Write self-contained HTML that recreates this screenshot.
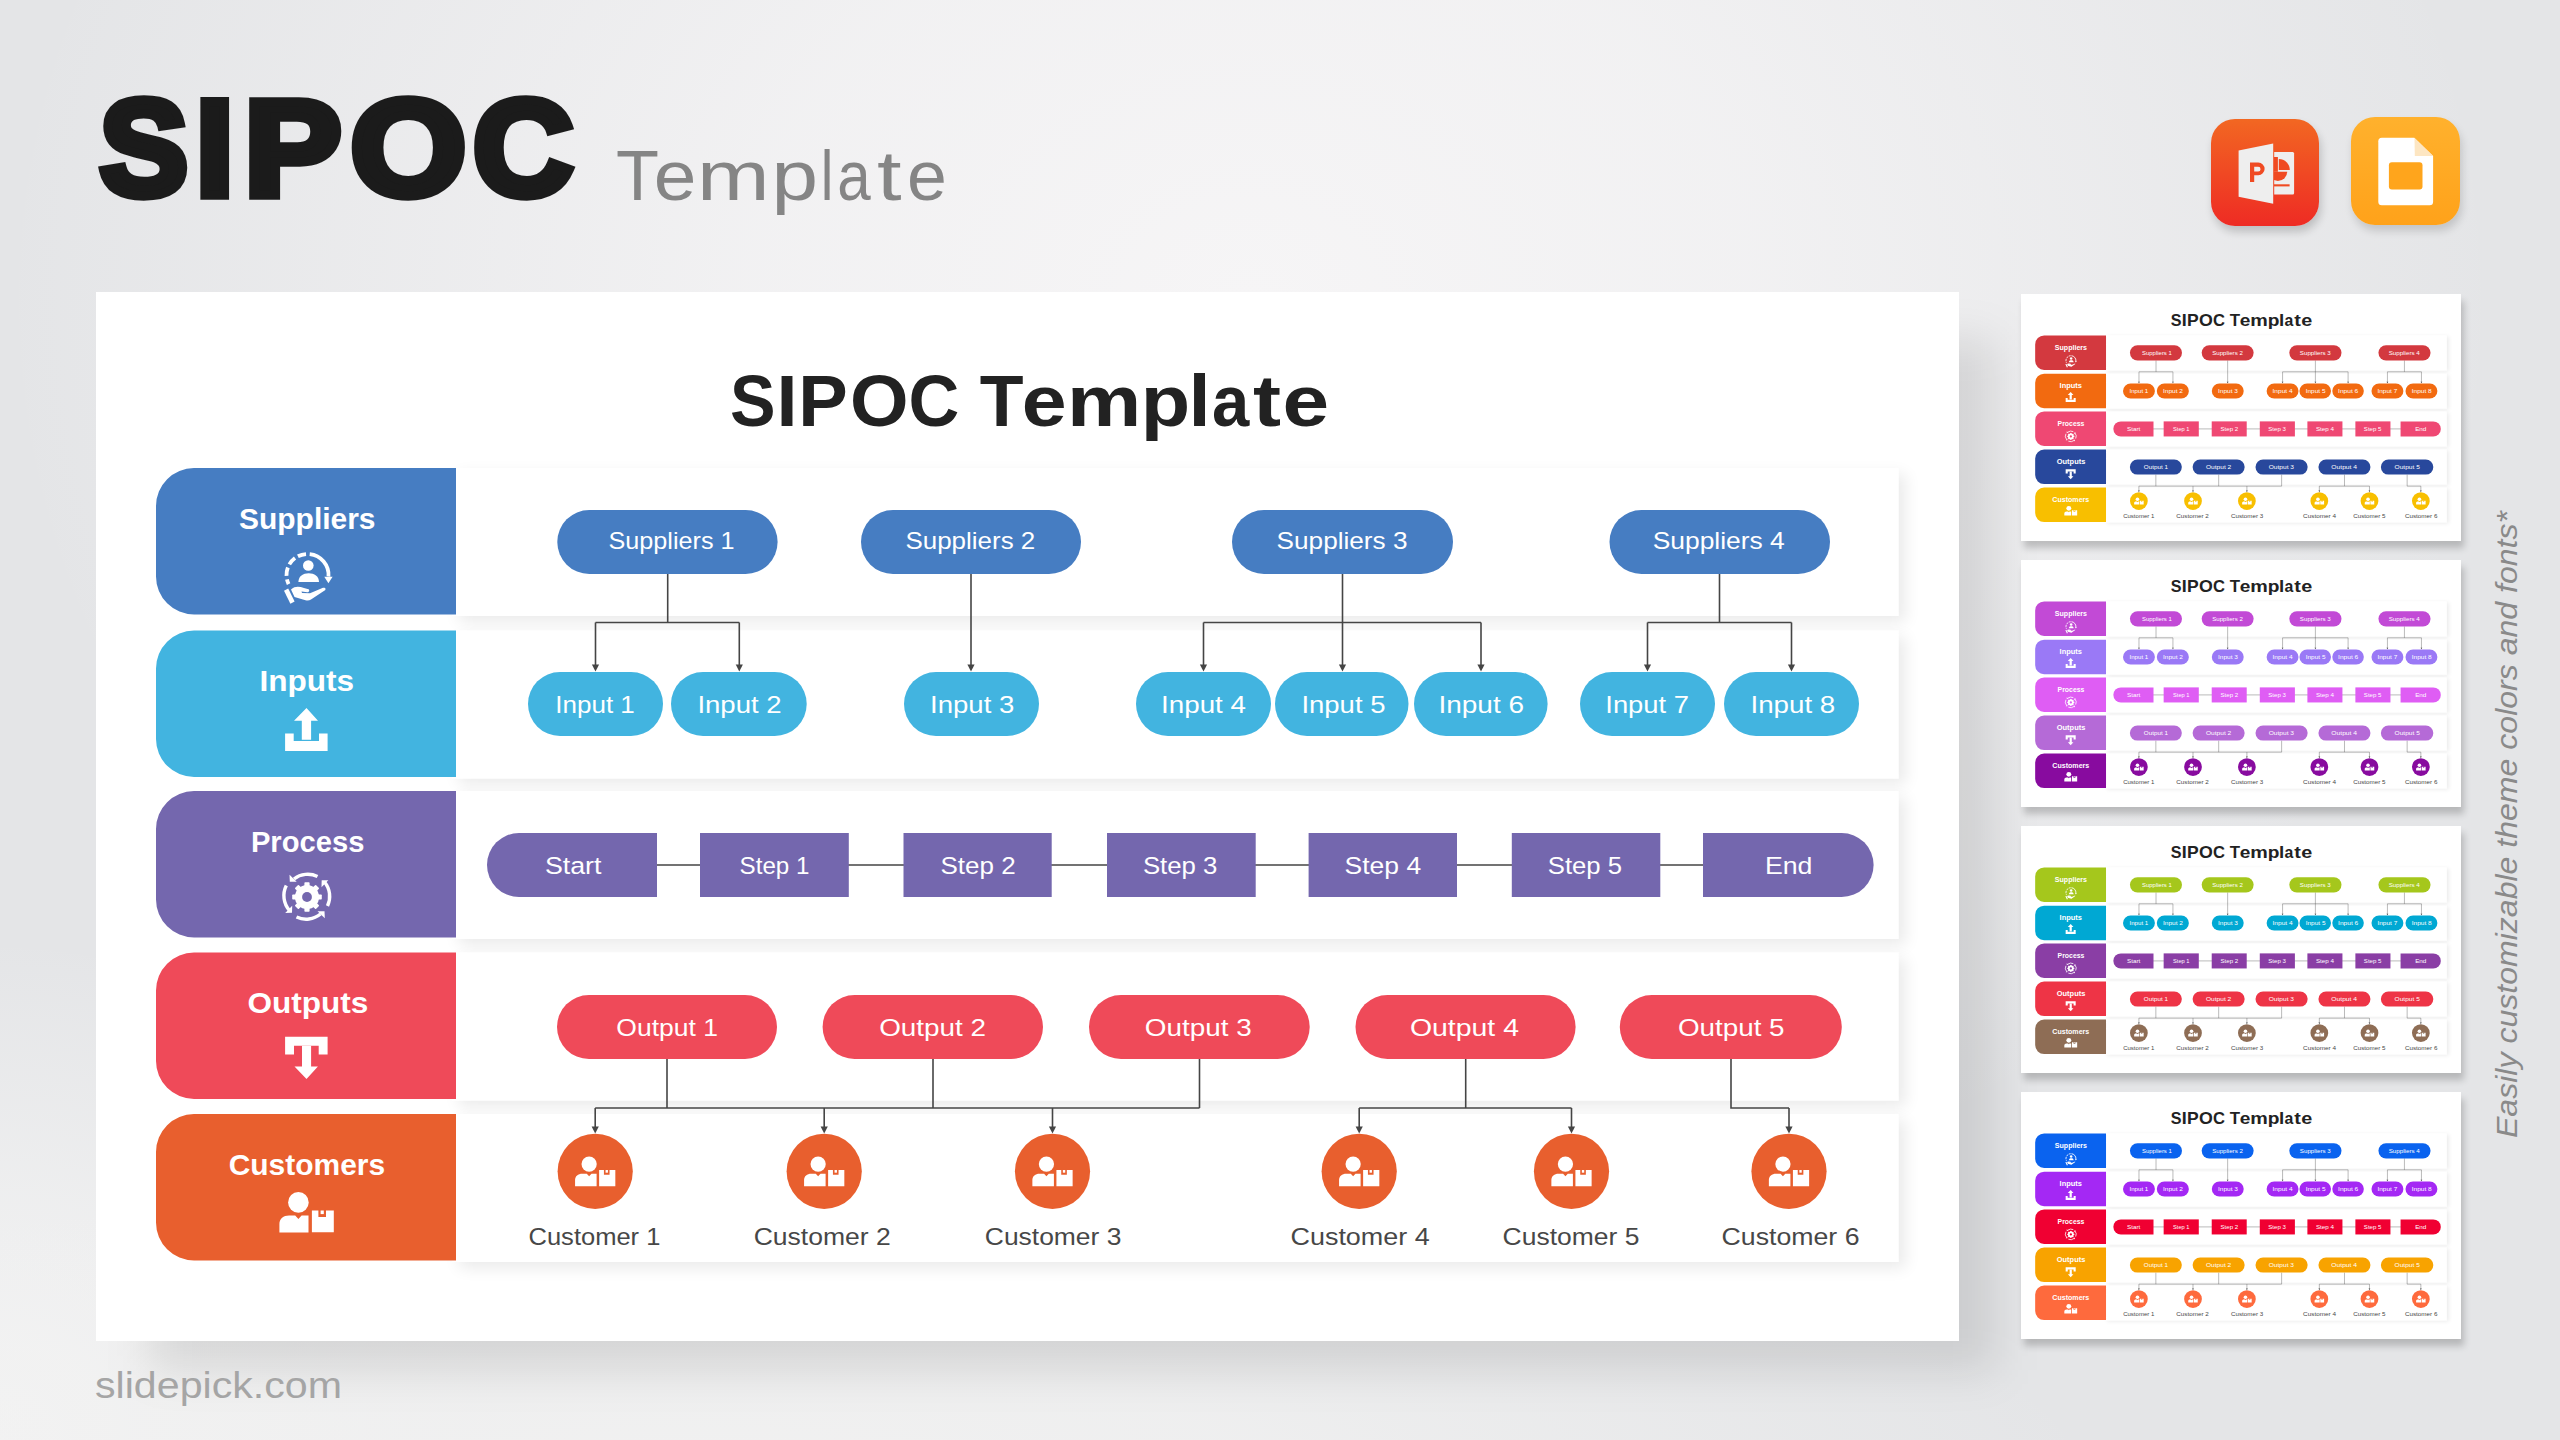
<!DOCTYPE html>
<html><head><meta charset="utf-8"><title>SIPOC Template</title>
<style>
html,body{margin:0;padding:0;}
body{width:2560px;height:1440px;overflow:hidden;position:relative;font-family:"Liberation Sans", sans-serif;
background:
 radial-gradient(1400px 300px at 700px 1480px, rgba(241,241,241,1) 0%, rgba(241,241,241,0.8) 40%, rgba(241,241,241,0) 100%),
 radial-gradient(500px 500px at 0px 1440px, rgba(244,244,244,1) 0%, rgba(244,244,244,0.6) 50%, rgba(244,244,244,0) 100%),
 radial-gradient(1250px 1000px at 1250px 300px, rgba(246,245,246,1) 0%, rgba(246,245,246,0.75) 40%, rgba(246,245,246,0) 100%),
 #e4e5e7;}
.abs{position:absolute;}
.slide{position:absolute;left:96px;top:292px;width:1863px;height:1049px;background:#fff;}
.sshadow{position:absolute;left:150px;top:340px;width:1845px;height:1030px;background:rgba(0,0,0,0.10);filter:blur(22px);}
.thumb{position:absolute;left:2021px;width:440px;height:247px;background:#fff;box-shadow:3px 7px 7px rgba(0,0,0,0.2);}
</style></head><body>
<svg class="abs" style="left:0;top:0" width="2560" height="300" font-family='"Liberation Sans", sans-serif'>
<text transform="translate(99.73,194.85) scale(0.9802,1)" x="0" y="0" font-size="134.7" font-weight="bold" fill="#1b1b1b" stroke="#1b1b1b" stroke-width="9.3" stroke-linejoin="miter">S</text>
<text transform="translate(195.92,194.85) scale(1.0001,1)" x="0" y="0" font-size="134.7" font-weight="bold" fill="#1b1b1b" stroke="#1b1b1b" stroke-width="9.3" stroke-linejoin="miter">I</text>
<text transform="translate(244.39,194.85) scale(1.0767,1)" x="0" y="0" font-size="134.7" font-weight="bold" fill="#1b1b1b" stroke="#1b1b1b" stroke-width="9.3" stroke-linejoin="miter">P</text>
<text transform="translate(350.84,194.85) scale(1.0999,1)" x="0" y="0" font-size="134.7" font-weight="bold" fill="#1b1b1b" stroke="#1b1b1b" stroke-width="9.3" stroke-linejoin="miter">O</text>
<text transform="translate(473.20,194.85) scale(1.0257,1)" x="0" y="0" font-size="134.7" font-weight="bold" fill="#1b1b1b" stroke="#1b1b1b" stroke-width="9.3" stroke-linejoin="miter">C</text>
<text transform="translate(616.05,199.6) scale(1.0045,1)" x="0" y="0" font-size="70" fill="#858585">T</text>
<text transform="translate(653.77,199.6) scale(1.0973,1)" x="0" y="0" font-size="70" fill="#858585">e</text>
<text transform="translate(696.95,199.6) scale(1.2452,1)" x="0" y="0" font-size="70" fill="#858585">m</text>
<text transform="translate(771.46,199.6) scale(1.1963,1)" x="0" y="0" font-size="70" fill="#858585">p</text>
<text transform="translate(820.79,199.6) scale(0.8117,1)" x="0" y="0" font-size="70" fill="#858585">l</text>
<text transform="translate(837.28,199.6) scale(0.8588,1)" x="0" y="0" font-size="70" fill="#858585">a</text>
<text transform="translate(877.08,199.6) scale(1.2612,1)" x="0" y="0" font-size="70" fill="#858585">t</text>
<text transform="translate(907.09,199.6) scale(1.0243,1)" x="0" y="0" font-size="70" fill="#858585">e</text>
</svg>
<div class="abs" style="left:2211px;top:119px;width:108px;height:107px;border-radius:24px;background:linear-gradient(#f26722,#ee2b24);box-shadow:2px 6px 8px rgba(0,0,0,0.18)">
<svg width="108" height="107" viewBox="0 0 108 107" style="display:block">
<path d="M63.2 32.9 L81.6 32.9 Q83.1 32.9 83.1 34.4 L83.1 73.9 Q83.1 75.4 81.6 75.4 L63.2 75.4 Z" fill="#eeeeee"/>
<path d="M67.8 40 A11 11 0 0 1 78.8 51 L67.8 51 Z" fill="#f04a22"/>
<path d="M76.2 52.8 A9.3 9.3 0 0 1 57.6 52.8 Z" fill="#f04a22"/>
<path d="M62 52.8 L66.9 52.8 L66.9 38 L62 38 Z" fill="#f04a22"/>
<rect x="62.5" y="65.3" width="16.1" height="2.1" fill="#f04a22"/>
<path d="M27.6 31.6 L62.2 24.6 L62.2 84.75 L27.6 77.7 Z" fill="#eeeeee"/>
<path fill-rule="evenodd" d="M39 43.6 L47.3 43.6 A6.3 6.3 0 0 1 47.3 56.2 L43.2 56.2 L43.2 63.1 L39 63.1 Z M43.2 47.8 L47.2 47.8 A2.35 2.35 0 0 1 47.2 52.5 L43.2 52.5 Z" fill="#f04a22"/>
</svg></div>
<div class="abs" style="left:2351px;top:117px;width:109px;height:108px;border-radius:24px;background:linear-gradient(#ffb12d,#ffa21a);box-shadow:2px 6px 8px rgba(0,0,0,0.15)">
<svg width="109" height="108" viewBox="0 0 109 108" style="display:block">
<path d="M30.8 20.7 L63.3 20.7 L82.1 39 L82.1 84.7 Q82.1 88.2 78.6 88.2 L30.8 88.2 Q27.3 88.2 27.3 84.7 L27.3 24.2 Q27.3 20.7 30.8 20.7 Z" fill="#fff"/>
<path d="M63.5 21 L82 39 L63.8 39 Z" fill="#fde6c2"/>
<rect x="37.9" y="45.2" width="33.6" height="27.4" rx="3" fill="#ffa51c"/>
</svg></div>
<div class="sshadow"></div>
<div class="slide"><svg width="1863" height="1049" viewBox="0 0 1863 1049" preserveAspectRatio="none" style="display:block" font-family='"Liberation Sans", sans-serif'>
<defs>
<filter id="rsm" x="-5%" y="-30%" width="110%" height="160%"><feGaussianBlur in="SourceAlpha" stdDeviation="8"/><feOffset dx="7" dy="6"/><feComponentTransfer><feFuncA type="linear" slope="0.085"/></feComponentTransfer><feMerge><feMergeNode/><feMergeNode in="SourceGraphic"/></feMerge></filter>
<marker id="arm" viewBox="0 0 10 10" refX="5" refY="9" markerWidth="7" markerHeight="7" markerUnits="userSpaceOnUse" orient="auto-start-reverse"><path d="M0 0 L10 0 L5 10 Z" fill="#3a3a3a"/></marker>
</defs>
<rect x="0" y="0" width="1863" height="1049" fill="#fff"/>
<text transform="translate(634.12,134.3) scale(0.9563,1)" x="0" y="0" font-size="71.4" font-weight="bold" fill="#222">S</text><text transform="translate(680.43,134.3) scale(1.0601,1)" x="0" y="0" font-size="71.4" font-weight="bold" fill="#222">I</text><text transform="translate(702.33,134.3) scale(1.0393,1)" x="0" y="0" font-size="71.4" font-weight="bold" fill="#222">P</text><text transform="translate(753.91,134.3) scale(1.0539,1)" x="0" y="0" font-size="71.4" font-weight="bold" fill="#222">O</text><text transform="translate(812.42,134.3) scale(0.9851,1)" x="0" y="0" font-size="71.4" font-weight="bold" fill="#222">C</text><text transform="translate(883.81,134.3) scale(1.0035,1)" x="0" y="0" font-size="71.4" font-weight="bold" fill="#222">T</text><text transform="translate(925.75,134.3) scale(1.1309,1)" x="0" y="0" font-size="71.4" font-weight="bold" fill="#222">e</text><text transform="translate(971.08,134.3) scale(1.1705,1)" x="0" y="0" font-size="71.4" font-weight="bold" fill="#222">m</text><text transform="translate(1044.66,134.3) scale(1.1338,1)" x="0" y="0" font-size="71.4" font-weight="bold" fill="#222">p</text><text transform="translate(1092.43,134.3) scale(1.1143,1)" x="0" y="0" font-size="71.4" font-weight="bold" fill="#222">l</text><text transform="translate(1116.06,134.3) scale(0.9381,1)" x="0" y="0" font-size="71.4" font-weight="bold" fill="#222">a</text><text transform="translate(1156.99,134.3) scale(1.1785,1)" x="0" y="0" font-size="71.4" font-weight="bold" fill="#222">t</text><text transform="translate(1186.53,134.3) scale(1.1744,1)" x="0" y="0" font-size="71.4" font-weight="bold" fill="#222">e</text>
<rect x="356" y="176" width="1446.5" height="148.0" fill="#fff" filter="url(#rsm)"/>
<rect x="356" y="338.5" width="1446.5" height="148.0" fill="#fff" filter="url(#rsm)"/>
<rect x="356" y="499" width="1446.5" height="148.0" fill="#fff" filter="url(#rsm)"/>
<rect x="356" y="660.5" width="1446.5" height="148.0" fill="#fff" filter="url(#rsm)"/>
<rect x="356" y="822" width="1446.5" height="148.0" fill="#fff" filter="url(#rsm)"/>
<path d="M360 176 L98 176 A38 38 0 0 0 60 214 L60 284.5 A38 38 0 0 0 98 322.5 L360 322.5 Z" fill="#467dc2"/>
<text x="211.25" y="236.5" font-size="29.5" font-weight="bold" fill="#fff" text-anchor="middle" textLength="136.5" lengthAdjust="spacingAndGlyphs">Suppliers</text>
<path d="M360 338.5 L98 338.5 A38 38 0 0 0 60 376.5 L60 447.0 A38 38 0 0 0 98 485.0 L360 485.0 Z" fill="#42b4e0"/>
<text x="210.75" y="399.0" font-size="29.5" font-weight="bold" fill="#fff" text-anchor="middle" textLength="94.7" lengthAdjust="spacingAndGlyphs">Inputs</text>
<path d="M360 499 L98 499 A38 38 0 0 0 60 537 L60 607.5 A38 38 0 0 0 98 645.5 L360 645.5 Z" fill="#7467ae"/>
<text x="211.65" y="559.5" font-size="29.5" font-weight="bold" fill="#fff" text-anchor="middle" textLength="113.5" lengthAdjust="spacingAndGlyphs">Process</text>
<path d="M360 660.5 L98 660.5 A38 38 0 0 0 60 698.5 L60 769.0 A38 38 0 0 0 98 807.0 L360 807.0 Z" fill="#ef4a59"/>
<text x="211.95" y="721.0" font-size="29.5" font-weight="bold" fill="#fff" text-anchor="middle" textLength="120.9" lengthAdjust="spacingAndGlyphs">Outputs</text>
<path d="M360 822 L98 822 A38 38 0 0 0 60 860 L60 930.5 A38 38 0 0 0 98 968.5 L360 968.5 Z" fill="#e85f2e"/>
<text x="210.95" y="882.5" font-size="29.5" font-weight="bold" fill="#fff" text-anchor="middle" textLength="156.5" lengthAdjust="spacingAndGlyphs">Customers</text>
<g transform="translate(211.5,285.5) scale(1.0) translate(-37.5,-37.5)" fill="#fff" stroke="none">
<circle cx="38.3" cy="25.5" r="5.3"/>
<path d="M28.4 41.9 C28.6 36 33 33.2 38.7 33.2 C44.4 33.2 48.8 36 49 41.9 Z"/>
<path d="M36.04 14.05 A21 21 0 0 0 18.6 44.2" fill="none" stroke="#fff" stroke-width="3.8" stroke-dasharray="8.5 3.4"/>
<path d="M39.7 14.1 A21 21 0 0 1 58.49 36.5" fill="none" stroke="#fff" stroke-width="3.8"/>
<path d="M54.3 36.8 L62.6 36.8 L58.4 43.2 Z"/>
<path d="M21 49.5 C25 46 29 46.5 34 48 L38.5 49.2 C40 50 39 52.5 37.2 52.3 L31.5 51.6 L32 53 L40 53.2 L53 47.8 C55.3 47 56.5 49.2 54.6 50.5 L41 59.5 C39.5 60.5 37.5 60.7 35.5 60.2 L24.5 57 Z"/>
<path d="M14 50.8 L18.2 48.6 L24.6 61.6 L20.4 63.8 Z"/>
</g>
<g transform="translate(210.5,440.5) scale(1.0) translate(-36.5,-37.5)" fill="#fff">
<path d="M36.5 13 L48 25.8 L41.1 25.8 L41.1 44.8 L31.8 44.8 L31.8 25.8 L24 25.8 Z"/>
<path d="M15.1 38.5 L23.7 38.5 L23.7 46.1 L49 46.1 L49 38.5 L57.6 38.5 L57.6 56 L15.1 56 Z"/>
</g>
<g transform="translate(211,605) scale(1.0) translate(-37,-37)" fill="#fff">
<circle cx="37" cy="37" r="12.1"/>
<rect x="34.4" y="22.2" width="5.2" height="6" rx="0.8" transform="rotate(0 37 37)"/><rect x="34.4" y="22.2" width="5.2" height="6" rx="0.8" transform="rotate(45 37 37)"/><rect x="34.4" y="22.2" width="5.2" height="6" rx="0.8" transform="rotate(90 37 37)"/><rect x="34.4" y="22.2" width="5.2" height="6" rx="0.8" transform="rotate(135 37 37)"/><rect x="34.4" y="22.2" width="5.2" height="6" rx="0.8" transform="rotate(180 37 37)"/><rect x="34.4" y="22.2" width="5.2" height="6" rx="0.8" transform="rotate(225 37 37)"/><rect x="34.4" y="22.2" width="5.2" height="6" rx="0.8" transform="rotate(270 37 37)"/><rect x="34.4" y="22.2" width="5.2" height="6" rx="0.8" transform="rotate(315 37 37)"/>
<circle cx="37" cy="37" r="4.9" fill="#7467ae"/>
<g fill="none" stroke="#fff" stroke-width="3.4">
<path d="M47.5 16.5 A22.5 22.5 0 0 0 24 19"/>
<path d="M16.3 25.5 A22.5 22.5 0 0 0 19.5 50.5"/>
<path d="M26.5 57 A22.5 22.5 0 0 0 50.5 54"/>
<path d="M57.5 46 A22.5 22.5 0 0 0 54.5 22"/>
</g>
<path d="M19.5 14.8 L26.7 21.7 L19.8 21.8 Z"/>
<path d="M15.2 52.9 L22.2 45.8 L22.0 52.8 Z"/>
<path d="M54.8 58.2 L47.5 51.3 L54.5 51.2 Z"/>
<path d="M58.3 20.3 L51.5 27.3 L51.7 20.3 Z"/>
</g>
<g transform="translate(210.5,765.5) scale(1.0) translate(-36.5,-37.5)" fill="#fff">
<path d="M15.1 16.7 L57.6 16.7 L57.6 34.6 L48.7 34.6 L48.7 25.8 L24 25.8 L24 34.6 L15.1 34.6 Z"/>
<path d="M32 25.8 L41.1 25.8 L41.1 46.4 L47.9 46.4 L36.5 59.1 L24.5 46.4 L32 46.4 Z"/>
</g>
<g transform="translate(210.6,925.5) scale(1.0) translate(-36.6,-37.5)" fill="#fff">
<circle cx="28.4" cy="22.4" r="10.3"/>
<path d="M9.4 52.6 L9.4 44 C9.4 38.5 13.5 35.4 19 35.4 L25.2 35.4 L28.4 39 L31.6 35.4 L38.5 35.4 L38.5 52.6 Z"/>
<path d="M41.9 30.5 L48.4 30.5 L48.4 37 L56 37 L56 30.5 L63.8 30.5 L63.8 52.3 L41.9 52.3 Z"/>
<rect x="50.6" y="30.5" width="3.2" height="3.6"/>
</g>
<path d="M571.7 282 L571.7 330.5" fill="none" stroke="#454545" stroke-width="1.6"/><path d="M499.5 330.5 L643.3 330.5" fill="none" stroke="#454545" stroke-width="1.6"/><path d="M499.5 330.5 L499.5 374.5" fill="none" stroke="#454545" stroke-width="1.6"/><path d="M643.3 330.5 L643.3 374.5" fill="none" stroke="#454545" stroke-width="1.6"/>
<path d="M875 282 L875.0 374.5" fill="none" stroke="#454545" stroke-width="1.6"/>
<path d="M1246.5 282 L1246.5 330.5" fill="none" stroke="#454545" stroke-width="1.6"/><path d="M1107.5 330.5 L1385 330.5" fill="none" stroke="#454545" stroke-width="1.6"/><path d="M1107.5 330.5 L1107.5 374.5" fill="none" stroke="#454545" stroke-width="1.6"/><path d="M1246.5 330.5 L1246.5 374.5" fill="none" stroke="#454545" stroke-width="1.6"/><path d="M1385 330.5 L1385.0 374.5" fill="none" stroke="#454545" stroke-width="1.6"/>
<path d="M1623.5 282 L1623.5 330.5" fill="none" stroke="#454545" stroke-width="1.6"/><path d="M1551.5 330.5 L1695.5 330.5" fill="none" stroke="#454545" stroke-width="1.6"/><path d="M1551.5 330.5 L1551.5 374.5" fill="none" stroke="#454545" stroke-width="1.6"/><path d="M1695.5 330.5 L1695.5 374.5" fill="none" stroke="#454545" stroke-width="1.6"/>
<path d="M571 767 L571 816" fill="none" stroke="#454545" stroke-width="1.6"/>
<path d="M837 767 L837 816" fill="none" stroke="#454545" stroke-width="1.6"/>
<path d="M1103.5 767 L1103.5 816" fill="none" stroke="#454545" stroke-width="1.6"/>
<path d="M499.2 816 L1103.5 816" fill="none" stroke="#454545" stroke-width="1.6"/>
<path d="M499.2 816 L499.2 836.5" fill="none" stroke="#454545" stroke-width="1.6"/>
<path d="M728.2 816 L728.2 836.5" fill="none" stroke="#454545" stroke-width="1.6"/>
<path d="M956.5 816 L956.5 836.5" fill="none" stroke="#454545" stroke-width="1.6"/>
<path d="M1369.7 767 L1369.7 816" fill="none" stroke="#454545" stroke-width="1.6"/><path d="M1263.2 816 L1475.5 816" fill="none" stroke="#454545" stroke-width="1.6"/><path d="M1263.2 816 L1263.2 836.5" fill="none" stroke="#454545" stroke-width="1.6"/><path d="M1475.5 816 L1475.5 836.5" fill="none" stroke="#454545" stroke-width="1.6"/>
<path d="M1635 767 L1635 816 L1693 816" fill="none" stroke="#454545" stroke-width="1.6"/>
<path d="M1693 816 L1693.0 836.5" fill="none" stroke="#454545" stroke-width="1.6"/>
<path d="M464 573 L1704 573" fill="none" stroke="#454545" stroke-width="1.6"/>
<rect x="461.3" y="218" width="220.30000000000007" height="64" rx="32.0" fill="#467dc2"/><text x="575.55" y="257.2" font-size="24.5" font-weight="normal" fill="#fff" text-anchor="middle" textLength="126.1" lengthAdjust="spacingAndGlyphs">Suppliers 1</text>
<rect x="765" y="218" width="220" height="64" rx="32.0" fill="#467dc2"/><text x="874.35" y="257.2" font-size="24.5" font-weight="normal" fill="#fff" text-anchor="middle" textLength="129.9" lengthAdjust="spacingAndGlyphs">Suppliers 2</text>
<rect x="1136" y="218" width="221" height="64" rx="32.0" fill="#467dc2"/><text x="1246.05" y="257.2" font-size="24.5" font-weight="normal" fill="#fff" text-anchor="middle" textLength="130.9" lengthAdjust="spacingAndGlyphs">Suppliers 3</text>
<rect x="1513.5" y="218" width="220.5" height="64" rx="32.0" fill="#467dc2"/><text x="1622.75" y="257.2" font-size="24.5" font-weight="normal" fill="#fff" text-anchor="middle" textLength="132.1" lengthAdjust="spacingAndGlyphs">Suppliers 4</text>
<rect x="432" y="380" width="135" height="64" rx="32.0" fill="#42b4e0"/><text x="499.05" y="421.3" font-size="24.5" font-weight="normal" fill="#fff" text-anchor="middle" textLength="79.5" lengthAdjust="spacingAndGlyphs">Input 1</text>
<rect x="575" y="380" width="135.70000000000005" height="64" rx="32.0" fill="#42b4e0"/><text x="643.55" y="421.3" font-size="24.5" font-weight="normal" fill="#fff" text-anchor="middle" textLength="84.3" lengthAdjust="spacingAndGlyphs">Input 2</text>
<rect x="808" y="380" width="135" height="64" rx="32.0" fill="#42b4e0"/><text x="876.15" y="421.3" font-size="24.5" font-weight="normal" fill="#fff" text-anchor="middle" textLength="84.3" lengthAdjust="spacingAndGlyphs">Input 3</text>
<rect x="1040" y="380" width="135" height="64" rx="32.0" fill="#42b4e0"/><text x="1107.55" y="421.3" font-size="24.5" font-weight="normal" fill="#fff" text-anchor="middle" textLength="84.9" lengthAdjust="spacingAndGlyphs">Input 4</text>
<rect x="1179" y="380" width="133.5" height="64" rx="32.0" fill="#42b4e0"/><text x="1247.45" y="421.3" font-size="24.5" font-weight="normal" fill="#fff" text-anchor="middle" textLength="84.1" lengthAdjust="spacingAndGlyphs">Input 5</text>
<rect x="1318" y="380" width="133.5999999999999" height="64" rx="32.0" fill="#42b4e0"/><text x="1385.25" y="421.3" font-size="24.5" font-weight="normal" fill="#fff" text-anchor="middle" textLength="85.7" lengthAdjust="spacingAndGlyphs">Input 6</text>
<rect x="1484" y="380" width="135" height="64" rx="32.0" fill="#42b4e0"/><text x="1551.15" y="421.3" font-size="24.5" font-weight="normal" fill="#fff" text-anchor="middle" textLength="83.7" lengthAdjust="spacingAndGlyphs">Input 7</text>
<rect x="1628" y="380" width="135" height="64" rx="32.0" fill="#42b4e0"/><text x="1696.9" y="421.3" font-size="24.5" font-weight="normal" fill="#fff" text-anchor="middle" textLength="84.8" lengthAdjust="spacingAndGlyphs">Input 8</text>
<path d="M561 541 L423 541 A32 32 0 0 0 423 605 L561 605 Z" fill="#7467ae"/>
<text x="477.2" y="582.4" font-size="24.5" font-weight="normal" fill="#fff" text-anchor="middle" textLength="56.6" lengthAdjust="spacingAndGlyphs">Start</text>
<rect x="604" y="541" width="148.79999999999995" height="64" fill="#7467ae"/>
<text x="678.5" y="582.4" font-size="24.5" font-weight="normal" fill="#fff" text-anchor="middle" textLength="69.8" lengthAdjust="spacingAndGlyphs">Step 1</text>
<rect x="807.5" y="541" width="148.20000000000005" height="64" fill="#7467ae"/>
<text x="882.05" y="582.4" font-size="24.5" font-weight="normal" fill="#fff" text-anchor="middle" textLength="75.1" lengthAdjust="spacingAndGlyphs">Step 2</text>
<rect x="1011" y="541" width="148.70000000000005" height="64" fill="#7467ae"/>
<text x="1084.15" y="582.4" font-size="24.5" font-weight="normal" fill="#fff" text-anchor="middle" textLength="74.5" lengthAdjust="spacingAndGlyphs">Step 3</text>
<rect x="1212.6" y="541" width="148.4000000000001" height="64" fill="#7467ae"/>
<text x="1286.9" y="582.4" font-size="24.5" font-weight="normal" fill="#fff" text-anchor="middle" textLength="76.6" lengthAdjust="spacingAndGlyphs">Step 4</text>
<rect x="1415.8" y="541" width="148.5" height="64" fill="#7467ae"/>
<text x="1488.88" y="582.4" font-size="24.5" font-weight="normal" fill="#fff" text-anchor="middle" textLength="74.25" lengthAdjust="spacingAndGlyphs">Step 5</text>
<path d="M1607 541 L1745.6 541 A32 32 0 0 1 1745.6 605 L1607 605 Z" fill="#7467ae"/>
<text x="1692.65" y="582.4" font-size="24.5" font-weight="normal" fill="#fff" text-anchor="middle" textLength="47.5" lengthAdjust="spacingAndGlyphs">End</text>
<rect x="461" y="703" width="220" height="64" rx="32.0" fill="#ef4a59"/><text x="571.1" y="744" font-size="24.5" font-weight="normal" fill="#fff" text-anchor="middle" textLength="101.6" lengthAdjust="spacingAndGlyphs">Output 1</text>
<rect x="726.6" y="703" width="220.39999999999998" height="64" rx="32.0" fill="#ef4a59"/><text x="836.65" y="744" font-size="24.5" font-weight="normal" fill="#fff" text-anchor="middle" textLength="106.9" lengthAdjust="spacingAndGlyphs">Output 2</text>
<rect x="993" y="703" width="220.70000000000005" height="64" rx="32.0" fill="#ef4a59"/><text x="1102.25" y="744" font-size="24.5" font-weight="normal" fill="#fff" text-anchor="middle" textLength="106.9" lengthAdjust="spacingAndGlyphs">Output 3</text>
<rect x="1259.5" y="703" width="220.0999999999999" height="64" rx="32.0" fill="#ef4a59"/><text x="1368.45" y="744" font-size="24.5" font-weight="normal" fill="#fff" text-anchor="middle" textLength="109.1" lengthAdjust="spacingAndGlyphs">Output 4</text>
<rect x="1523.8" y="703" width="222.0" height="64" rx="32.0" fill="#ef4a59"/><text x="1635.25" y="744" font-size="24.5" font-weight="normal" fill="#fff" text-anchor="middle" textLength="106.7" lengthAdjust="spacingAndGlyphs">Output 5</text>
<circle cx="499.2" cy="879.3" r="37.6" fill="#e85f2e"/>
<g transform="translate(499.2,883.2) scale(0.74) translate(-36.6,-37.5)" fill="#fff">
<circle cx="28.4" cy="22.4" r="10.3"/>
<path d="M9.4 52.6 L9.4 44 C9.4 38.5 13.5 35.4 19 35.4 L25.2 35.4 L28.4 39 L31.6 35.4 L38.5 35.4 L38.5 52.6 Z"/>
<path d="M41.9 30.5 L48.4 30.5 L48.4 37 L56 37 L56 30.5 L63.8 30.5 L63.8 52.3 L41.9 52.3 Z"/>
<rect x="50.6" y="30.5" width="3.2" height="3.6"/>
</g>
<text x="498.45" y="952.5" font-size="24.5" font-weight="normal" fill="#474747" text-anchor="middle" textLength="131.9" lengthAdjust="spacingAndGlyphs">Customer 1</text>
<circle cx="728.2" cy="879.3" r="37.6" fill="#e85f2e"/>
<g transform="translate(728.2,883.2) scale(0.74) translate(-36.6,-37.5)" fill="#fff">
<circle cx="28.4" cy="22.4" r="10.3"/>
<path d="M9.4 52.6 L9.4 44 C9.4 38.5 13.5 35.4 19 35.4 L25.2 35.4 L28.4 39 L31.6 35.4 L38.5 35.4 L38.5 52.6 Z"/>
<path d="M41.9 30.5 L48.4 30.5 L48.4 37 L56 37 L56 30.5 L63.8 30.5 L63.8 52.3 L41.9 52.3 Z"/>
<rect x="50.6" y="30.5" width="3.2" height="3.6"/>
</g>
<text x="726.25" y="952.5" font-size="24.5" font-weight="normal" fill="#474747" text-anchor="middle" textLength="137.1" lengthAdjust="spacingAndGlyphs">Customer 2</text>
<circle cx="956.5" cy="879.3" r="37.6" fill="#e85f2e"/>
<g transform="translate(956.5,883.2) scale(0.74) translate(-36.6,-37.5)" fill="#fff">
<circle cx="28.4" cy="22.4" r="10.3"/>
<path d="M9.4 52.6 L9.4 44 C9.4 38.5 13.5 35.4 19 35.4 L25.2 35.4 L28.4 39 L31.6 35.4 L38.5 35.4 L38.5 52.6 Z"/>
<path d="M41.9 30.5 L48.4 30.5 L48.4 37 L56 37 L56 30.5 L63.8 30.5 L63.8 52.3 L41.9 52.3 Z"/>
<rect x="50.6" y="30.5" width="3.2" height="3.6"/>
</g>
<text x="957.1" y="952.5" font-size="24.5" font-weight="normal" fill="#474747" text-anchor="middle" textLength="136.6" lengthAdjust="spacingAndGlyphs">Customer 3</text>
<circle cx="1263.2" cy="879.3" r="37.6" fill="#e85f2e"/>
<g transform="translate(1263.2,883.2) scale(0.74) translate(-36.6,-37.5)" fill="#fff">
<circle cx="28.4" cy="22.4" r="10.3"/>
<path d="M9.4 52.6 L9.4 44 C9.4 38.5 13.5 35.4 19 35.4 L25.2 35.4 L28.4 39 L31.6 35.4 L38.5 35.4 L38.5 52.6 Z"/>
<path d="M41.9 30.5 L48.4 30.5 L48.4 37 L56 37 L56 30.5 L63.8 30.5 L63.8 52.3 L41.9 52.3 Z"/>
<rect x="50.6" y="30.5" width="3.2" height="3.6"/>
</g>
<text x="1264.1" y="952.5" font-size="24.5" font-weight="normal" fill="#474747" text-anchor="middle" textLength="139.2" lengthAdjust="spacingAndGlyphs">Customer 4</text>
<circle cx="1475.5" cy="879.3" r="37.6" fill="#e85f2e"/>
<g transform="translate(1475.5,883.2) scale(0.74) translate(-36.6,-37.5)" fill="#fff">
<circle cx="28.4" cy="22.4" r="10.3"/>
<path d="M9.4 52.6 L9.4 44 C9.4 38.5 13.5 35.4 19 35.4 L25.2 35.4 L28.4 39 L31.6 35.4 L38.5 35.4 L38.5 52.6 Z"/>
<path d="M41.9 30.5 L48.4 30.5 L48.4 37 L56 37 L56 30.5 L63.8 30.5 L63.8 52.3 L41.9 52.3 Z"/>
<rect x="50.6" y="30.5" width="3.2" height="3.6"/>
</g>
<text x="1475.0" y="952.5" font-size="24.5" font-weight="normal" fill="#474747" text-anchor="middle" textLength="136.8" lengthAdjust="spacingAndGlyphs">Customer 5</text>
<circle cx="1693" cy="879.3" r="37.6" fill="#e85f2e"/>
<g transform="translate(1693,883.2) scale(0.74) translate(-36.6,-37.5)" fill="#fff">
<circle cx="28.4" cy="22.4" r="10.3"/>
<path d="M9.4 52.6 L9.4 44 C9.4 38.5 13.5 35.4 19 35.4 L25.2 35.4 L28.4 39 L31.6 35.4 L38.5 35.4 L38.5 52.6 Z"/>
<path d="M41.9 30.5 L48.4 30.5 L48.4 37 L56 37 L56 30.5 L63.8 30.5 L63.8 52.3 L41.9 52.3 Z"/>
<rect x="50.6" y="30.5" width="3.2" height="3.6"/>
</g>
<text x="1694.5" y="952.5" font-size="24.5" font-weight="normal" fill="#474747" text-anchor="middle" textLength="138.0" lengthAdjust="spacingAndGlyphs">Customer 6</text>
<path d="M495.90 372.50 L503.10 372.50 L499.50 379.50 Z" fill="#454545"/>
<path d="M639.70 372.50 L646.90 372.50 L643.30 379.50 Z" fill="#454545"/>
<path d="M871.40 372.50 L878.60 372.50 L875.00 379.50 Z" fill="#454545"/>
<path d="M1103.90 372.50 L1111.10 372.50 L1107.50 379.50 Z" fill="#454545"/>
<path d="M1242.90 372.50 L1250.10 372.50 L1246.50 379.50 Z" fill="#454545"/>
<path d="M1381.40 372.50 L1388.60 372.50 L1385.00 379.50 Z" fill="#454545"/>
<path d="M1547.90 372.50 L1555.10 372.50 L1551.50 379.50 Z" fill="#454545"/>
<path d="M1691.90 372.50 L1699.10 372.50 L1695.50 379.50 Z" fill="#454545"/>
<path d="M495.60 834.50 L502.80 834.50 L499.20 841.50 Z" fill="#454545"/>
<path d="M724.60 834.50 L731.80 834.50 L728.20 841.50 Z" fill="#454545"/>
<path d="M952.90 834.50 L960.10 834.50 L956.50 841.50 Z" fill="#454545"/>
<path d="M1259.60 834.50 L1266.80 834.50 L1263.20 841.50 Z" fill="#454545"/>
<path d="M1471.90 834.50 L1479.10 834.50 L1475.50 841.50 Z" fill="#454545"/>
<path d="M1689.40 834.50 L1696.60 834.50 L1693.00 841.50 Z" fill="#454545"/>
</svg></div>
<div class="thumb" style="top:294px"><svg width="440" height="247" viewBox="0 0 1863 1049" preserveAspectRatio="none" style="display:block" font-family='"Liberation Sans", sans-serif'>
<defs>
<filter id="rst0" x="-5%" y="-30%" width="110%" height="160%"><feGaussianBlur in="SourceAlpha" stdDeviation="8"/><feOffset dx="7" dy="6"/><feComponentTransfer><feFuncA type="linear" slope="0.085"/></feComponentTransfer><feMerge><feMergeNode/><feMergeNode in="SourceGraphic"/></feMerge></filter>
<marker id="art0" viewBox="0 0 10 10" refX="5" refY="9" markerWidth="7" markerHeight="7" markerUnits="userSpaceOnUse" orient="auto-start-reverse"><path d="M0 0 L10 0 L5 10 Z" fill="#3a3a3a"/></marker>
</defs>
<rect x="0" y="0" width="1863" height="1049" fill="#fff"/>
<text transform="translate(634.12,134.3) scale(0.9563,1)" x="0" y="0" font-size="71.4" font-weight="bold" fill="#222">S</text><text transform="translate(680.43,134.3) scale(1.0601,1)" x="0" y="0" font-size="71.4" font-weight="bold" fill="#222">I</text><text transform="translate(702.33,134.3) scale(1.0393,1)" x="0" y="0" font-size="71.4" font-weight="bold" fill="#222">P</text><text transform="translate(753.91,134.3) scale(1.0539,1)" x="0" y="0" font-size="71.4" font-weight="bold" fill="#222">O</text><text transform="translate(812.42,134.3) scale(0.9851,1)" x="0" y="0" font-size="71.4" font-weight="bold" fill="#222">C</text><text transform="translate(883.81,134.3) scale(1.0035,1)" x="0" y="0" font-size="71.4" font-weight="bold" fill="#222">T</text><text transform="translate(925.75,134.3) scale(1.1309,1)" x="0" y="0" font-size="71.4" font-weight="bold" fill="#222">e</text><text transform="translate(971.08,134.3) scale(1.1705,1)" x="0" y="0" font-size="71.4" font-weight="bold" fill="#222">m</text><text transform="translate(1044.66,134.3) scale(1.1338,1)" x="0" y="0" font-size="71.4" font-weight="bold" fill="#222">p</text><text transform="translate(1092.43,134.3) scale(1.1143,1)" x="0" y="0" font-size="71.4" font-weight="bold" fill="#222">l</text><text transform="translate(1116.06,134.3) scale(0.9381,1)" x="0" y="0" font-size="71.4" font-weight="bold" fill="#222">a</text><text transform="translate(1156.99,134.3) scale(1.1785,1)" x="0" y="0" font-size="71.4" font-weight="bold" fill="#222">t</text><text transform="translate(1186.53,134.3) scale(1.1744,1)" x="0" y="0" font-size="71.4" font-weight="bold" fill="#222">e</text>
<rect x="356" y="176" width="1446.5" height="148.0" fill="#fff" filter="url(#rst0)"/>
<rect x="356" y="338.5" width="1446.5" height="148.0" fill="#fff" filter="url(#rst0)"/>
<rect x="356" y="499" width="1446.5" height="148.0" fill="#fff" filter="url(#rst0)"/>
<rect x="356" y="660.5" width="1446.5" height="148.0" fill="#fff" filter="url(#rst0)"/>
<rect x="356" y="822" width="1446.5" height="148.0" fill="#fff" filter="url(#rst0)"/>
<path d="M360 176 L98 176 A38 38 0 0 0 60 214 L60 284.5 A38 38 0 0 0 98 322.5 L360 322.5 Z" fill="#d3393f"/>
<text x="211.25" y="236.5" font-size="29.5" font-weight="bold" fill="#fff" text-anchor="middle" textLength="136.5" lengthAdjust="spacingAndGlyphs">Suppliers</text>
<path d="M360 338.5 L98 338.5 A38 38 0 0 0 60 376.5 L60 447.0 A38 38 0 0 0 98 485.0 L360 485.0 Z" fill="#f26a10"/>
<text x="210.75" y="399.0" font-size="29.5" font-weight="bold" fill="#fff" text-anchor="middle" textLength="94.7" lengthAdjust="spacingAndGlyphs">Inputs</text>
<path d="M360 499 L98 499 A38 38 0 0 0 60 537 L60 607.5 A38 38 0 0 0 98 645.5 L360 645.5 Z" fill="#ef4873"/>
<text x="211.65" y="559.5" font-size="29.5" font-weight="bold" fill="#fff" text-anchor="middle" textLength="113.5" lengthAdjust="spacingAndGlyphs">Process</text>
<path d="M360 660.5 L98 660.5 A38 38 0 0 0 60 698.5 L60 769.0 A38 38 0 0 0 98 807.0 L360 807.0 Z" fill="#28489c"/>
<text x="211.95" y="721.0" font-size="29.5" font-weight="bold" fill="#fff" text-anchor="middle" textLength="120.9" lengthAdjust="spacingAndGlyphs">Outputs</text>
<path d="M360 822 L98 822 A38 38 0 0 0 60 860 L60 930.5 A38 38 0 0 0 98 968.5 L360 968.5 Z" fill="#f8bf00"/>
<text x="210.95" y="882.5" font-size="29.5" font-weight="bold" fill="#fff" text-anchor="middle" textLength="156.5" lengthAdjust="spacingAndGlyphs">Customers</text>
<g transform="translate(211.5,285.5) scale(1.0) translate(-37.5,-37.5)" fill="#fff" stroke="none">
<circle cx="38.3" cy="25.5" r="5.3"/>
<path d="M28.4 41.9 C28.6 36 33 33.2 38.7 33.2 C44.4 33.2 48.8 36 49 41.9 Z"/>
<path d="M36.04 14.05 A21 21 0 0 0 18.6 44.2" fill="none" stroke="#fff" stroke-width="3.8" stroke-dasharray="8.5 3.4"/>
<path d="M39.7 14.1 A21 21 0 0 1 58.49 36.5" fill="none" stroke="#fff" stroke-width="3.8"/>
<path d="M54.3 36.8 L62.6 36.8 L58.4 43.2 Z"/>
<path d="M21 49.5 C25 46 29 46.5 34 48 L38.5 49.2 C40 50 39 52.5 37.2 52.3 L31.5 51.6 L32 53 L40 53.2 L53 47.8 C55.3 47 56.5 49.2 54.6 50.5 L41 59.5 C39.5 60.5 37.5 60.7 35.5 60.2 L24.5 57 Z"/>
<path d="M14 50.8 L18.2 48.6 L24.6 61.6 L20.4 63.8 Z"/>
</g>
<g transform="translate(210.5,440.5) scale(1.0) translate(-36.5,-37.5)" fill="#fff">
<path d="M36.5 13 L48 25.8 L41.1 25.8 L41.1 44.8 L31.8 44.8 L31.8 25.8 L24 25.8 Z"/>
<path d="M15.1 38.5 L23.7 38.5 L23.7 46.1 L49 46.1 L49 38.5 L57.6 38.5 L57.6 56 L15.1 56 Z"/>
</g>
<g transform="translate(211,605) scale(1.0) translate(-37,-37)" fill="#fff">
<circle cx="37" cy="37" r="12.1"/>
<rect x="34.4" y="22.2" width="5.2" height="6" rx="0.8" transform="rotate(0 37 37)"/><rect x="34.4" y="22.2" width="5.2" height="6" rx="0.8" transform="rotate(45 37 37)"/><rect x="34.4" y="22.2" width="5.2" height="6" rx="0.8" transform="rotate(90 37 37)"/><rect x="34.4" y="22.2" width="5.2" height="6" rx="0.8" transform="rotate(135 37 37)"/><rect x="34.4" y="22.2" width="5.2" height="6" rx="0.8" transform="rotate(180 37 37)"/><rect x="34.4" y="22.2" width="5.2" height="6" rx="0.8" transform="rotate(225 37 37)"/><rect x="34.4" y="22.2" width="5.2" height="6" rx="0.8" transform="rotate(270 37 37)"/><rect x="34.4" y="22.2" width="5.2" height="6" rx="0.8" transform="rotate(315 37 37)"/>
<circle cx="37" cy="37" r="4.9" fill="#ef4873"/>
<g fill="none" stroke="#fff" stroke-width="3.4">
<path d="M47.5 16.5 A22.5 22.5 0 0 0 24 19"/>
<path d="M16.3 25.5 A22.5 22.5 0 0 0 19.5 50.5"/>
<path d="M26.5 57 A22.5 22.5 0 0 0 50.5 54"/>
<path d="M57.5 46 A22.5 22.5 0 0 0 54.5 22"/>
</g>
<path d="M19.5 14.8 L26.7 21.7 L19.8 21.8 Z"/>
<path d="M15.2 52.9 L22.2 45.8 L22.0 52.8 Z"/>
<path d="M54.8 58.2 L47.5 51.3 L54.5 51.2 Z"/>
<path d="M58.3 20.3 L51.5 27.3 L51.7 20.3 Z"/>
</g>
<g transform="translate(210.5,765.5) scale(1.0) translate(-36.5,-37.5)" fill="#fff">
<path d="M15.1 16.7 L57.6 16.7 L57.6 34.6 L48.7 34.6 L48.7 25.8 L24 25.8 L24 34.6 L15.1 34.6 Z"/>
<path d="M32 25.8 L41.1 25.8 L41.1 46.4 L47.9 46.4 L36.5 59.1 L24.5 46.4 L32 46.4 Z"/>
</g>
<g transform="translate(210.6,925.5) scale(1.0) translate(-36.6,-37.5)" fill="#fff">
<circle cx="28.4" cy="22.4" r="10.3"/>
<path d="M9.4 52.6 L9.4 44 C9.4 38.5 13.5 35.4 19 35.4 L25.2 35.4 L28.4 39 L31.6 35.4 L38.5 35.4 L38.5 52.6 Z"/>
<path d="M41.9 30.5 L48.4 30.5 L48.4 37 L56 37 L56 30.5 L63.8 30.5 L63.8 52.3 L41.9 52.3 Z"/>
<rect x="50.6" y="30.5" width="3.2" height="3.6"/>
</g>
<path d="M571.7 282 L571.7 330.5" fill="none" stroke="#454545" stroke-width="1.6"/><path d="M499.5 330.5 L643.3 330.5" fill="none" stroke="#454545" stroke-width="1.6"/><path d="M499.5 330.5 L499.5 374.5" fill="none" stroke="#454545" stroke-width="1.6"/><path d="M643.3 330.5 L643.3 374.5" fill="none" stroke="#454545" stroke-width="1.6"/>
<path d="M875 282 L875.0 374.5" fill="none" stroke="#454545" stroke-width="1.6"/>
<path d="M1246.5 282 L1246.5 330.5" fill="none" stroke="#454545" stroke-width="1.6"/><path d="M1107.5 330.5 L1385 330.5" fill="none" stroke="#454545" stroke-width="1.6"/><path d="M1107.5 330.5 L1107.5 374.5" fill="none" stroke="#454545" stroke-width="1.6"/><path d="M1246.5 330.5 L1246.5 374.5" fill="none" stroke="#454545" stroke-width="1.6"/><path d="M1385 330.5 L1385.0 374.5" fill="none" stroke="#454545" stroke-width="1.6"/>
<path d="M1623.5 282 L1623.5 330.5" fill="none" stroke="#454545" stroke-width="1.6"/><path d="M1551.5 330.5 L1695.5 330.5" fill="none" stroke="#454545" stroke-width="1.6"/><path d="M1551.5 330.5 L1551.5 374.5" fill="none" stroke="#454545" stroke-width="1.6"/><path d="M1695.5 330.5 L1695.5 374.5" fill="none" stroke="#454545" stroke-width="1.6"/>
<path d="M571 767 L571 816" fill="none" stroke="#454545" stroke-width="1.6"/>
<path d="M837 767 L837 816" fill="none" stroke="#454545" stroke-width="1.6"/>
<path d="M1103.5 767 L1103.5 816" fill="none" stroke="#454545" stroke-width="1.6"/>
<path d="M499.2 816 L1103.5 816" fill="none" stroke="#454545" stroke-width="1.6"/>
<path d="M499.2 816 L499.2 836.5" fill="none" stroke="#454545" stroke-width="1.6"/>
<path d="M728.2 816 L728.2 836.5" fill="none" stroke="#454545" stroke-width="1.6"/>
<path d="M956.5 816 L956.5 836.5" fill="none" stroke="#454545" stroke-width="1.6"/>
<path d="M1369.7 767 L1369.7 816" fill="none" stroke="#454545" stroke-width="1.6"/><path d="M1263.2 816 L1475.5 816" fill="none" stroke="#454545" stroke-width="1.6"/><path d="M1263.2 816 L1263.2 836.5" fill="none" stroke="#454545" stroke-width="1.6"/><path d="M1475.5 816 L1475.5 836.5" fill="none" stroke="#454545" stroke-width="1.6"/>
<path d="M1635 767 L1635 816 L1693 816" fill="none" stroke="#454545" stroke-width="1.6"/>
<path d="M1693 816 L1693.0 836.5" fill="none" stroke="#454545" stroke-width="1.6"/>
<path d="M464 573 L1704 573" fill="none" stroke="#454545" stroke-width="1.6"/>
<rect x="461.3" y="218" width="220.30000000000007" height="64" rx="32.0" fill="#d3393f"/><text x="575.55" y="257.2" font-size="24.5" font-weight="normal" fill="#fff" text-anchor="middle" textLength="126.1" lengthAdjust="spacingAndGlyphs">Suppliers 1</text>
<rect x="765" y="218" width="220" height="64" rx="32.0" fill="#d3393f"/><text x="874.35" y="257.2" font-size="24.5" font-weight="normal" fill="#fff" text-anchor="middle" textLength="129.9" lengthAdjust="spacingAndGlyphs">Suppliers 2</text>
<rect x="1136" y="218" width="221" height="64" rx="32.0" fill="#d3393f"/><text x="1246.05" y="257.2" font-size="24.5" font-weight="normal" fill="#fff" text-anchor="middle" textLength="130.9" lengthAdjust="spacingAndGlyphs">Suppliers 3</text>
<rect x="1513.5" y="218" width="220.5" height="64" rx="32.0" fill="#d3393f"/><text x="1622.75" y="257.2" font-size="24.5" font-weight="normal" fill="#fff" text-anchor="middle" textLength="132.1" lengthAdjust="spacingAndGlyphs">Suppliers 4</text>
<rect x="432" y="380" width="135" height="64" rx="32.0" fill="#f26a10"/><text x="499.05" y="421.3" font-size="24.5" font-weight="normal" fill="#fff" text-anchor="middle" textLength="79.5" lengthAdjust="spacingAndGlyphs">Input 1</text>
<rect x="575" y="380" width="135.70000000000005" height="64" rx="32.0" fill="#f26a10"/><text x="643.55" y="421.3" font-size="24.5" font-weight="normal" fill="#fff" text-anchor="middle" textLength="84.3" lengthAdjust="spacingAndGlyphs">Input 2</text>
<rect x="808" y="380" width="135" height="64" rx="32.0" fill="#f26a10"/><text x="876.15" y="421.3" font-size="24.5" font-weight="normal" fill="#fff" text-anchor="middle" textLength="84.3" lengthAdjust="spacingAndGlyphs">Input 3</text>
<rect x="1040" y="380" width="135" height="64" rx="32.0" fill="#f26a10"/><text x="1107.55" y="421.3" font-size="24.5" font-weight="normal" fill="#fff" text-anchor="middle" textLength="84.9" lengthAdjust="spacingAndGlyphs">Input 4</text>
<rect x="1179" y="380" width="133.5" height="64" rx="32.0" fill="#f26a10"/><text x="1247.45" y="421.3" font-size="24.5" font-weight="normal" fill="#fff" text-anchor="middle" textLength="84.1" lengthAdjust="spacingAndGlyphs">Input 5</text>
<rect x="1318" y="380" width="133.5999999999999" height="64" rx="32.0" fill="#f26a10"/><text x="1385.25" y="421.3" font-size="24.5" font-weight="normal" fill="#fff" text-anchor="middle" textLength="85.7" lengthAdjust="spacingAndGlyphs">Input 6</text>
<rect x="1484" y="380" width="135" height="64" rx="32.0" fill="#f26a10"/><text x="1551.15" y="421.3" font-size="24.5" font-weight="normal" fill="#fff" text-anchor="middle" textLength="83.7" lengthAdjust="spacingAndGlyphs">Input 7</text>
<rect x="1628" y="380" width="135" height="64" rx="32.0" fill="#f26a10"/><text x="1696.9" y="421.3" font-size="24.5" font-weight="normal" fill="#fff" text-anchor="middle" textLength="84.8" lengthAdjust="spacingAndGlyphs">Input 8</text>
<path d="M561 541 L423 541 A32 32 0 0 0 423 605 L561 605 Z" fill="#ef4873"/>
<text x="477.2" y="582.4" font-size="24.5" font-weight="normal" fill="#fff" text-anchor="middle" textLength="56.6" lengthAdjust="spacingAndGlyphs">Start</text>
<rect x="604" y="541" width="148.79999999999995" height="64" fill="#ef4873"/>
<text x="678.5" y="582.4" font-size="24.5" font-weight="normal" fill="#fff" text-anchor="middle" textLength="69.8" lengthAdjust="spacingAndGlyphs">Step 1</text>
<rect x="807.5" y="541" width="148.20000000000005" height="64" fill="#ef4873"/>
<text x="882.05" y="582.4" font-size="24.5" font-weight="normal" fill="#fff" text-anchor="middle" textLength="75.1" lengthAdjust="spacingAndGlyphs">Step 2</text>
<rect x="1011" y="541" width="148.70000000000005" height="64" fill="#ef4873"/>
<text x="1084.15" y="582.4" font-size="24.5" font-weight="normal" fill="#fff" text-anchor="middle" textLength="74.5" lengthAdjust="spacingAndGlyphs">Step 3</text>
<rect x="1212.6" y="541" width="148.4000000000001" height="64" fill="#ef4873"/>
<text x="1286.9" y="582.4" font-size="24.5" font-weight="normal" fill="#fff" text-anchor="middle" textLength="76.6" lengthAdjust="spacingAndGlyphs">Step 4</text>
<rect x="1415.8" y="541" width="148.5" height="64" fill="#ef4873"/>
<text x="1488.88" y="582.4" font-size="24.5" font-weight="normal" fill="#fff" text-anchor="middle" textLength="74.25" lengthAdjust="spacingAndGlyphs">Step 5</text>
<path d="M1607 541 L1745.6 541 A32 32 0 0 1 1745.6 605 L1607 605 Z" fill="#ef4873"/>
<text x="1692.65" y="582.4" font-size="24.5" font-weight="normal" fill="#fff" text-anchor="middle" textLength="47.5" lengthAdjust="spacingAndGlyphs">End</text>
<rect x="461" y="703" width="220" height="64" rx="32.0" fill="#28489c"/><text x="571.1" y="744" font-size="24.5" font-weight="normal" fill="#fff" text-anchor="middle" textLength="101.6" lengthAdjust="spacingAndGlyphs">Output 1</text>
<rect x="726.6" y="703" width="220.39999999999998" height="64" rx="32.0" fill="#28489c"/><text x="836.65" y="744" font-size="24.5" font-weight="normal" fill="#fff" text-anchor="middle" textLength="106.9" lengthAdjust="spacingAndGlyphs">Output 2</text>
<rect x="993" y="703" width="220.70000000000005" height="64" rx="32.0" fill="#28489c"/><text x="1102.25" y="744" font-size="24.5" font-weight="normal" fill="#fff" text-anchor="middle" textLength="106.9" lengthAdjust="spacingAndGlyphs">Output 3</text>
<rect x="1259.5" y="703" width="220.0999999999999" height="64" rx="32.0" fill="#28489c"/><text x="1368.45" y="744" font-size="24.5" font-weight="normal" fill="#fff" text-anchor="middle" textLength="109.1" lengthAdjust="spacingAndGlyphs">Output 4</text>
<rect x="1523.8" y="703" width="222.0" height="64" rx="32.0" fill="#28489c"/><text x="1635.25" y="744" font-size="24.5" font-weight="normal" fill="#fff" text-anchor="middle" textLength="106.7" lengthAdjust="spacingAndGlyphs">Output 5</text>
<circle cx="499.2" cy="879.3" r="37.6" fill="#f8bf00"/>
<g transform="translate(499.2,883.2) scale(0.74) translate(-36.6,-37.5)" fill="#fff">
<circle cx="28.4" cy="22.4" r="10.3"/>
<path d="M9.4 52.6 L9.4 44 C9.4 38.5 13.5 35.4 19 35.4 L25.2 35.4 L28.4 39 L31.6 35.4 L38.5 35.4 L38.5 52.6 Z"/>
<path d="M41.9 30.5 L48.4 30.5 L48.4 37 L56 37 L56 30.5 L63.8 30.5 L63.8 52.3 L41.9 52.3 Z"/>
<rect x="50.6" y="30.5" width="3.2" height="3.6"/>
</g>
<text x="498.45" y="952.5" font-size="24.5" font-weight="normal" fill="#474747" text-anchor="middle" textLength="131.9" lengthAdjust="spacingAndGlyphs">Customer 1</text>
<circle cx="728.2" cy="879.3" r="37.6" fill="#f8bf00"/>
<g transform="translate(728.2,883.2) scale(0.74) translate(-36.6,-37.5)" fill="#fff">
<circle cx="28.4" cy="22.4" r="10.3"/>
<path d="M9.4 52.6 L9.4 44 C9.4 38.5 13.5 35.4 19 35.4 L25.2 35.4 L28.4 39 L31.6 35.4 L38.5 35.4 L38.5 52.6 Z"/>
<path d="M41.9 30.5 L48.4 30.5 L48.4 37 L56 37 L56 30.5 L63.8 30.5 L63.8 52.3 L41.9 52.3 Z"/>
<rect x="50.6" y="30.5" width="3.2" height="3.6"/>
</g>
<text x="726.25" y="952.5" font-size="24.5" font-weight="normal" fill="#474747" text-anchor="middle" textLength="137.1" lengthAdjust="spacingAndGlyphs">Customer 2</text>
<circle cx="956.5" cy="879.3" r="37.6" fill="#f8bf00"/>
<g transform="translate(956.5,883.2) scale(0.74) translate(-36.6,-37.5)" fill="#fff">
<circle cx="28.4" cy="22.4" r="10.3"/>
<path d="M9.4 52.6 L9.4 44 C9.4 38.5 13.5 35.4 19 35.4 L25.2 35.4 L28.4 39 L31.6 35.4 L38.5 35.4 L38.5 52.6 Z"/>
<path d="M41.9 30.5 L48.4 30.5 L48.4 37 L56 37 L56 30.5 L63.8 30.5 L63.8 52.3 L41.9 52.3 Z"/>
<rect x="50.6" y="30.5" width="3.2" height="3.6"/>
</g>
<text x="957.1" y="952.5" font-size="24.5" font-weight="normal" fill="#474747" text-anchor="middle" textLength="136.6" lengthAdjust="spacingAndGlyphs">Customer 3</text>
<circle cx="1263.2" cy="879.3" r="37.6" fill="#f8bf00"/>
<g transform="translate(1263.2,883.2) scale(0.74) translate(-36.6,-37.5)" fill="#fff">
<circle cx="28.4" cy="22.4" r="10.3"/>
<path d="M9.4 52.6 L9.4 44 C9.4 38.5 13.5 35.4 19 35.4 L25.2 35.4 L28.4 39 L31.6 35.4 L38.5 35.4 L38.5 52.6 Z"/>
<path d="M41.9 30.5 L48.4 30.5 L48.4 37 L56 37 L56 30.5 L63.8 30.5 L63.8 52.3 L41.9 52.3 Z"/>
<rect x="50.6" y="30.5" width="3.2" height="3.6"/>
</g>
<text x="1264.1" y="952.5" font-size="24.5" font-weight="normal" fill="#474747" text-anchor="middle" textLength="139.2" lengthAdjust="spacingAndGlyphs">Customer 4</text>
<circle cx="1475.5" cy="879.3" r="37.6" fill="#f8bf00"/>
<g transform="translate(1475.5,883.2) scale(0.74) translate(-36.6,-37.5)" fill="#fff">
<circle cx="28.4" cy="22.4" r="10.3"/>
<path d="M9.4 52.6 L9.4 44 C9.4 38.5 13.5 35.4 19 35.4 L25.2 35.4 L28.4 39 L31.6 35.4 L38.5 35.4 L38.5 52.6 Z"/>
<path d="M41.9 30.5 L48.4 30.5 L48.4 37 L56 37 L56 30.5 L63.8 30.5 L63.8 52.3 L41.9 52.3 Z"/>
<rect x="50.6" y="30.5" width="3.2" height="3.6"/>
</g>
<text x="1475.0" y="952.5" font-size="24.5" font-weight="normal" fill="#474747" text-anchor="middle" textLength="136.8" lengthAdjust="spacingAndGlyphs">Customer 5</text>
<circle cx="1693" cy="879.3" r="37.6" fill="#f8bf00"/>
<g transform="translate(1693,883.2) scale(0.74) translate(-36.6,-37.5)" fill="#fff">
<circle cx="28.4" cy="22.4" r="10.3"/>
<path d="M9.4 52.6 L9.4 44 C9.4 38.5 13.5 35.4 19 35.4 L25.2 35.4 L28.4 39 L31.6 35.4 L38.5 35.4 L38.5 52.6 Z"/>
<path d="M41.9 30.5 L48.4 30.5 L48.4 37 L56 37 L56 30.5 L63.8 30.5 L63.8 52.3 L41.9 52.3 Z"/>
<rect x="50.6" y="30.5" width="3.2" height="3.6"/>
</g>
<text x="1694.5" y="952.5" font-size="24.5" font-weight="normal" fill="#474747" text-anchor="middle" textLength="138.0" lengthAdjust="spacingAndGlyphs">Customer 6</text>
<path d="M495.90 372.50 L503.10 372.50 L499.50 379.50 Z" fill="#454545"/>
<path d="M639.70 372.50 L646.90 372.50 L643.30 379.50 Z" fill="#454545"/>
<path d="M871.40 372.50 L878.60 372.50 L875.00 379.50 Z" fill="#454545"/>
<path d="M1103.90 372.50 L1111.10 372.50 L1107.50 379.50 Z" fill="#454545"/>
<path d="M1242.90 372.50 L1250.10 372.50 L1246.50 379.50 Z" fill="#454545"/>
<path d="M1381.40 372.50 L1388.60 372.50 L1385.00 379.50 Z" fill="#454545"/>
<path d="M1547.90 372.50 L1555.10 372.50 L1551.50 379.50 Z" fill="#454545"/>
<path d="M1691.90 372.50 L1699.10 372.50 L1695.50 379.50 Z" fill="#454545"/>
<path d="M495.60 834.50 L502.80 834.50 L499.20 841.50 Z" fill="#454545"/>
<path d="M724.60 834.50 L731.80 834.50 L728.20 841.50 Z" fill="#454545"/>
<path d="M952.90 834.50 L960.10 834.50 L956.50 841.50 Z" fill="#454545"/>
<path d="M1259.60 834.50 L1266.80 834.50 L1263.20 841.50 Z" fill="#454545"/>
<path d="M1471.90 834.50 L1479.10 834.50 L1475.50 841.50 Z" fill="#454545"/>
<path d="M1689.40 834.50 L1696.60 834.50 L1693.00 841.50 Z" fill="#454545"/>
</svg></div><div class="thumb" style="top:560px"><svg width="440" height="247" viewBox="0 0 1863 1049" preserveAspectRatio="none" style="display:block" font-family='"Liberation Sans", sans-serif'>
<defs>
<filter id="rst1" x="-5%" y="-30%" width="110%" height="160%"><feGaussianBlur in="SourceAlpha" stdDeviation="8"/><feOffset dx="7" dy="6"/><feComponentTransfer><feFuncA type="linear" slope="0.085"/></feComponentTransfer><feMerge><feMergeNode/><feMergeNode in="SourceGraphic"/></feMerge></filter>
<marker id="art1" viewBox="0 0 10 10" refX="5" refY="9" markerWidth="7" markerHeight="7" markerUnits="userSpaceOnUse" orient="auto-start-reverse"><path d="M0 0 L10 0 L5 10 Z" fill="#3a3a3a"/></marker>
</defs>
<rect x="0" y="0" width="1863" height="1049" fill="#fff"/>
<text transform="translate(634.12,134.3) scale(0.9563,1)" x="0" y="0" font-size="71.4" font-weight="bold" fill="#222">S</text><text transform="translate(680.43,134.3) scale(1.0601,1)" x="0" y="0" font-size="71.4" font-weight="bold" fill="#222">I</text><text transform="translate(702.33,134.3) scale(1.0393,1)" x="0" y="0" font-size="71.4" font-weight="bold" fill="#222">P</text><text transform="translate(753.91,134.3) scale(1.0539,1)" x="0" y="0" font-size="71.4" font-weight="bold" fill="#222">O</text><text transform="translate(812.42,134.3) scale(0.9851,1)" x="0" y="0" font-size="71.4" font-weight="bold" fill="#222">C</text><text transform="translate(883.81,134.3) scale(1.0035,1)" x="0" y="0" font-size="71.4" font-weight="bold" fill="#222">T</text><text transform="translate(925.75,134.3) scale(1.1309,1)" x="0" y="0" font-size="71.4" font-weight="bold" fill="#222">e</text><text transform="translate(971.08,134.3) scale(1.1705,1)" x="0" y="0" font-size="71.4" font-weight="bold" fill="#222">m</text><text transform="translate(1044.66,134.3) scale(1.1338,1)" x="0" y="0" font-size="71.4" font-weight="bold" fill="#222">p</text><text transform="translate(1092.43,134.3) scale(1.1143,1)" x="0" y="0" font-size="71.4" font-weight="bold" fill="#222">l</text><text transform="translate(1116.06,134.3) scale(0.9381,1)" x="0" y="0" font-size="71.4" font-weight="bold" fill="#222">a</text><text transform="translate(1156.99,134.3) scale(1.1785,1)" x="0" y="0" font-size="71.4" font-weight="bold" fill="#222">t</text><text transform="translate(1186.53,134.3) scale(1.1744,1)" x="0" y="0" font-size="71.4" font-weight="bold" fill="#222">e</text>
<rect x="356" y="176" width="1446.5" height="148.0" fill="#fff" filter="url(#rst1)"/>
<rect x="356" y="338.5" width="1446.5" height="148.0" fill="#fff" filter="url(#rst1)"/>
<rect x="356" y="499" width="1446.5" height="148.0" fill="#fff" filter="url(#rst1)"/>
<rect x="356" y="660.5" width="1446.5" height="148.0" fill="#fff" filter="url(#rst1)"/>
<rect x="356" y="822" width="1446.5" height="148.0" fill="#fff" filter="url(#rst1)"/>
<path d="M360 176 L98 176 A38 38 0 0 0 60 214 L60 284.5 A38 38 0 0 0 98 322.5 L360 322.5 Z" fill="#c24ad6"/>
<text x="211.25" y="236.5" font-size="29.5" font-weight="bold" fill="#fff" text-anchor="middle" textLength="136.5" lengthAdjust="spacingAndGlyphs">Suppliers</text>
<path d="M360 338.5 L98 338.5 A38 38 0 0 0 60 376.5 L60 447.0 A38 38 0 0 0 98 485.0 L360 485.0 Z" fill="#9a79f6"/>
<text x="210.75" y="399.0" font-size="29.5" font-weight="bold" fill="#fff" text-anchor="middle" textLength="94.7" lengthAdjust="spacingAndGlyphs">Inputs</text>
<path d="M360 499 L98 499 A38 38 0 0 0 60 537 L60 607.5 A38 38 0 0 0 98 645.5 L360 645.5 Z" fill="#df5df4"/>
<text x="211.65" y="559.5" font-size="29.5" font-weight="bold" fill="#fff" text-anchor="middle" textLength="113.5" lengthAdjust="spacingAndGlyphs">Process</text>
<path d="M360 660.5 L98 660.5 A38 38 0 0 0 60 698.5 L60 769.0 A38 38 0 0 0 98 807.0 L360 807.0 Z" fill="#b56ad7"/>
<text x="211.95" y="721.0" font-size="29.5" font-weight="bold" fill="#fff" text-anchor="middle" textLength="120.9" lengthAdjust="spacingAndGlyphs">Outputs</text>
<path d="M360 822 L98 822 A38 38 0 0 0 60 860 L60 930.5 A38 38 0 0 0 98 968.5 L360 968.5 Z" fill="#880b9f"/>
<text x="210.95" y="882.5" font-size="29.5" font-weight="bold" fill="#fff" text-anchor="middle" textLength="156.5" lengthAdjust="spacingAndGlyphs">Customers</text>
<g transform="translate(211.5,285.5) scale(1.0) translate(-37.5,-37.5)" fill="#fff" stroke="none">
<circle cx="38.3" cy="25.5" r="5.3"/>
<path d="M28.4 41.9 C28.6 36 33 33.2 38.7 33.2 C44.4 33.2 48.8 36 49 41.9 Z"/>
<path d="M36.04 14.05 A21 21 0 0 0 18.6 44.2" fill="none" stroke="#fff" stroke-width="3.8" stroke-dasharray="8.5 3.4"/>
<path d="M39.7 14.1 A21 21 0 0 1 58.49 36.5" fill="none" stroke="#fff" stroke-width="3.8"/>
<path d="M54.3 36.8 L62.6 36.8 L58.4 43.2 Z"/>
<path d="M21 49.5 C25 46 29 46.5 34 48 L38.5 49.2 C40 50 39 52.5 37.2 52.3 L31.5 51.6 L32 53 L40 53.2 L53 47.8 C55.3 47 56.5 49.2 54.6 50.5 L41 59.5 C39.5 60.5 37.5 60.7 35.5 60.2 L24.5 57 Z"/>
<path d="M14 50.8 L18.2 48.6 L24.6 61.6 L20.4 63.8 Z"/>
</g>
<g transform="translate(210.5,440.5) scale(1.0) translate(-36.5,-37.5)" fill="#fff">
<path d="M36.5 13 L48 25.8 L41.1 25.8 L41.1 44.8 L31.8 44.8 L31.8 25.8 L24 25.8 Z"/>
<path d="M15.1 38.5 L23.7 38.5 L23.7 46.1 L49 46.1 L49 38.5 L57.6 38.5 L57.6 56 L15.1 56 Z"/>
</g>
<g transform="translate(211,605) scale(1.0) translate(-37,-37)" fill="#fff">
<circle cx="37" cy="37" r="12.1"/>
<rect x="34.4" y="22.2" width="5.2" height="6" rx="0.8" transform="rotate(0 37 37)"/><rect x="34.4" y="22.2" width="5.2" height="6" rx="0.8" transform="rotate(45 37 37)"/><rect x="34.4" y="22.2" width="5.2" height="6" rx="0.8" transform="rotate(90 37 37)"/><rect x="34.4" y="22.2" width="5.2" height="6" rx="0.8" transform="rotate(135 37 37)"/><rect x="34.4" y="22.2" width="5.2" height="6" rx="0.8" transform="rotate(180 37 37)"/><rect x="34.4" y="22.2" width="5.2" height="6" rx="0.8" transform="rotate(225 37 37)"/><rect x="34.4" y="22.2" width="5.2" height="6" rx="0.8" transform="rotate(270 37 37)"/><rect x="34.4" y="22.2" width="5.2" height="6" rx="0.8" transform="rotate(315 37 37)"/>
<circle cx="37" cy="37" r="4.9" fill="#df5df4"/>
<g fill="none" stroke="#fff" stroke-width="3.4">
<path d="M47.5 16.5 A22.5 22.5 0 0 0 24 19"/>
<path d="M16.3 25.5 A22.5 22.5 0 0 0 19.5 50.5"/>
<path d="M26.5 57 A22.5 22.5 0 0 0 50.5 54"/>
<path d="M57.5 46 A22.5 22.5 0 0 0 54.5 22"/>
</g>
<path d="M19.5 14.8 L26.7 21.7 L19.8 21.8 Z"/>
<path d="M15.2 52.9 L22.2 45.8 L22.0 52.8 Z"/>
<path d="M54.8 58.2 L47.5 51.3 L54.5 51.2 Z"/>
<path d="M58.3 20.3 L51.5 27.3 L51.7 20.3 Z"/>
</g>
<g transform="translate(210.5,765.5) scale(1.0) translate(-36.5,-37.5)" fill="#fff">
<path d="M15.1 16.7 L57.6 16.7 L57.6 34.6 L48.7 34.6 L48.7 25.8 L24 25.8 L24 34.6 L15.1 34.6 Z"/>
<path d="M32 25.8 L41.1 25.8 L41.1 46.4 L47.9 46.4 L36.5 59.1 L24.5 46.4 L32 46.4 Z"/>
</g>
<g transform="translate(210.6,925.5) scale(1.0) translate(-36.6,-37.5)" fill="#fff">
<circle cx="28.4" cy="22.4" r="10.3"/>
<path d="M9.4 52.6 L9.4 44 C9.4 38.5 13.5 35.4 19 35.4 L25.2 35.4 L28.4 39 L31.6 35.4 L38.5 35.4 L38.5 52.6 Z"/>
<path d="M41.9 30.5 L48.4 30.5 L48.4 37 L56 37 L56 30.5 L63.8 30.5 L63.8 52.3 L41.9 52.3 Z"/>
<rect x="50.6" y="30.5" width="3.2" height="3.6"/>
</g>
<path d="M571.7 282 L571.7 330.5" fill="none" stroke="#454545" stroke-width="1.6"/><path d="M499.5 330.5 L643.3 330.5" fill="none" stroke="#454545" stroke-width="1.6"/><path d="M499.5 330.5 L499.5 374.5" fill="none" stroke="#454545" stroke-width="1.6"/><path d="M643.3 330.5 L643.3 374.5" fill="none" stroke="#454545" stroke-width="1.6"/>
<path d="M875 282 L875.0 374.5" fill="none" stroke="#454545" stroke-width="1.6"/>
<path d="M1246.5 282 L1246.5 330.5" fill="none" stroke="#454545" stroke-width="1.6"/><path d="M1107.5 330.5 L1385 330.5" fill="none" stroke="#454545" stroke-width="1.6"/><path d="M1107.5 330.5 L1107.5 374.5" fill="none" stroke="#454545" stroke-width="1.6"/><path d="M1246.5 330.5 L1246.5 374.5" fill="none" stroke="#454545" stroke-width="1.6"/><path d="M1385 330.5 L1385.0 374.5" fill="none" stroke="#454545" stroke-width="1.6"/>
<path d="M1623.5 282 L1623.5 330.5" fill="none" stroke="#454545" stroke-width="1.6"/><path d="M1551.5 330.5 L1695.5 330.5" fill="none" stroke="#454545" stroke-width="1.6"/><path d="M1551.5 330.5 L1551.5 374.5" fill="none" stroke="#454545" stroke-width="1.6"/><path d="M1695.5 330.5 L1695.5 374.5" fill="none" stroke="#454545" stroke-width="1.6"/>
<path d="M571 767 L571 816" fill="none" stroke="#454545" stroke-width="1.6"/>
<path d="M837 767 L837 816" fill="none" stroke="#454545" stroke-width="1.6"/>
<path d="M1103.5 767 L1103.5 816" fill="none" stroke="#454545" stroke-width="1.6"/>
<path d="M499.2 816 L1103.5 816" fill="none" stroke="#454545" stroke-width="1.6"/>
<path d="M499.2 816 L499.2 836.5" fill="none" stroke="#454545" stroke-width="1.6"/>
<path d="M728.2 816 L728.2 836.5" fill="none" stroke="#454545" stroke-width="1.6"/>
<path d="M956.5 816 L956.5 836.5" fill="none" stroke="#454545" stroke-width="1.6"/>
<path d="M1369.7 767 L1369.7 816" fill="none" stroke="#454545" stroke-width="1.6"/><path d="M1263.2 816 L1475.5 816" fill="none" stroke="#454545" stroke-width="1.6"/><path d="M1263.2 816 L1263.2 836.5" fill="none" stroke="#454545" stroke-width="1.6"/><path d="M1475.5 816 L1475.5 836.5" fill="none" stroke="#454545" stroke-width="1.6"/>
<path d="M1635 767 L1635 816 L1693 816" fill="none" stroke="#454545" stroke-width="1.6"/>
<path d="M1693 816 L1693.0 836.5" fill="none" stroke="#454545" stroke-width="1.6"/>
<path d="M464 573 L1704 573" fill="none" stroke="#454545" stroke-width="1.6"/>
<rect x="461.3" y="218" width="220.30000000000007" height="64" rx="32.0" fill="#c24ad6"/><text x="575.55" y="257.2" font-size="24.5" font-weight="normal" fill="#fff" text-anchor="middle" textLength="126.1" lengthAdjust="spacingAndGlyphs">Suppliers 1</text>
<rect x="765" y="218" width="220" height="64" rx="32.0" fill="#c24ad6"/><text x="874.35" y="257.2" font-size="24.5" font-weight="normal" fill="#fff" text-anchor="middle" textLength="129.9" lengthAdjust="spacingAndGlyphs">Suppliers 2</text>
<rect x="1136" y="218" width="221" height="64" rx="32.0" fill="#c24ad6"/><text x="1246.05" y="257.2" font-size="24.5" font-weight="normal" fill="#fff" text-anchor="middle" textLength="130.9" lengthAdjust="spacingAndGlyphs">Suppliers 3</text>
<rect x="1513.5" y="218" width="220.5" height="64" rx="32.0" fill="#c24ad6"/><text x="1622.75" y="257.2" font-size="24.5" font-weight="normal" fill="#fff" text-anchor="middle" textLength="132.1" lengthAdjust="spacingAndGlyphs">Suppliers 4</text>
<rect x="432" y="380" width="135" height="64" rx="32.0" fill="#9a79f6"/><text x="499.05" y="421.3" font-size="24.5" font-weight="normal" fill="#fff" text-anchor="middle" textLength="79.5" lengthAdjust="spacingAndGlyphs">Input 1</text>
<rect x="575" y="380" width="135.70000000000005" height="64" rx="32.0" fill="#9a79f6"/><text x="643.55" y="421.3" font-size="24.5" font-weight="normal" fill="#fff" text-anchor="middle" textLength="84.3" lengthAdjust="spacingAndGlyphs">Input 2</text>
<rect x="808" y="380" width="135" height="64" rx="32.0" fill="#9a79f6"/><text x="876.15" y="421.3" font-size="24.5" font-weight="normal" fill="#fff" text-anchor="middle" textLength="84.3" lengthAdjust="spacingAndGlyphs">Input 3</text>
<rect x="1040" y="380" width="135" height="64" rx="32.0" fill="#9a79f6"/><text x="1107.55" y="421.3" font-size="24.5" font-weight="normal" fill="#fff" text-anchor="middle" textLength="84.9" lengthAdjust="spacingAndGlyphs">Input 4</text>
<rect x="1179" y="380" width="133.5" height="64" rx="32.0" fill="#9a79f6"/><text x="1247.45" y="421.3" font-size="24.5" font-weight="normal" fill="#fff" text-anchor="middle" textLength="84.1" lengthAdjust="spacingAndGlyphs">Input 5</text>
<rect x="1318" y="380" width="133.5999999999999" height="64" rx="32.0" fill="#9a79f6"/><text x="1385.25" y="421.3" font-size="24.5" font-weight="normal" fill="#fff" text-anchor="middle" textLength="85.7" lengthAdjust="spacingAndGlyphs">Input 6</text>
<rect x="1484" y="380" width="135" height="64" rx="32.0" fill="#9a79f6"/><text x="1551.15" y="421.3" font-size="24.5" font-weight="normal" fill="#fff" text-anchor="middle" textLength="83.7" lengthAdjust="spacingAndGlyphs">Input 7</text>
<rect x="1628" y="380" width="135" height="64" rx="32.0" fill="#9a79f6"/><text x="1696.9" y="421.3" font-size="24.5" font-weight="normal" fill="#fff" text-anchor="middle" textLength="84.8" lengthAdjust="spacingAndGlyphs">Input 8</text>
<path d="M561 541 L423 541 A32 32 0 0 0 423 605 L561 605 Z" fill="#df5df4"/>
<text x="477.2" y="582.4" font-size="24.5" font-weight="normal" fill="#fff" text-anchor="middle" textLength="56.6" lengthAdjust="spacingAndGlyphs">Start</text>
<rect x="604" y="541" width="148.79999999999995" height="64" fill="#df5df4"/>
<text x="678.5" y="582.4" font-size="24.5" font-weight="normal" fill="#fff" text-anchor="middle" textLength="69.8" lengthAdjust="spacingAndGlyphs">Step 1</text>
<rect x="807.5" y="541" width="148.20000000000005" height="64" fill="#df5df4"/>
<text x="882.05" y="582.4" font-size="24.5" font-weight="normal" fill="#fff" text-anchor="middle" textLength="75.1" lengthAdjust="spacingAndGlyphs">Step 2</text>
<rect x="1011" y="541" width="148.70000000000005" height="64" fill="#df5df4"/>
<text x="1084.15" y="582.4" font-size="24.5" font-weight="normal" fill="#fff" text-anchor="middle" textLength="74.5" lengthAdjust="spacingAndGlyphs">Step 3</text>
<rect x="1212.6" y="541" width="148.4000000000001" height="64" fill="#df5df4"/>
<text x="1286.9" y="582.4" font-size="24.5" font-weight="normal" fill="#fff" text-anchor="middle" textLength="76.6" lengthAdjust="spacingAndGlyphs">Step 4</text>
<rect x="1415.8" y="541" width="148.5" height="64" fill="#df5df4"/>
<text x="1488.88" y="582.4" font-size="24.5" font-weight="normal" fill="#fff" text-anchor="middle" textLength="74.25" lengthAdjust="spacingAndGlyphs">Step 5</text>
<path d="M1607 541 L1745.6 541 A32 32 0 0 1 1745.6 605 L1607 605 Z" fill="#df5df4"/>
<text x="1692.65" y="582.4" font-size="24.5" font-weight="normal" fill="#fff" text-anchor="middle" textLength="47.5" lengthAdjust="spacingAndGlyphs">End</text>
<rect x="461" y="703" width="220" height="64" rx="32.0" fill="#b56ad7"/><text x="571.1" y="744" font-size="24.5" font-weight="normal" fill="#fff" text-anchor="middle" textLength="101.6" lengthAdjust="spacingAndGlyphs">Output 1</text>
<rect x="726.6" y="703" width="220.39999999999998" height="64" rx="32.0" fill="#b56ad7"/><text x="836.65" y="744" font-size="24.5" font-weight="normal" fill="#fff" text-anchor="middle" textLength="106.9" lengthAdjust="spacingAndGlyphs">Output 2</text>
<rect x="993" y="703" width="220.70000000000005" height="64" rx="32.0" fill="#b56ad7"/><text x="1102.25" y="744" font-size="24.5" font-weight="normal" fill="#fff" text-anchor="middle" textLength="106.9" lengthAdjust="spacingAndGlyphs">Output 3</text>
<rect x="1259.5" y="703" width="220.0999999999999" height="64" rx="32.0" fill="#b56ad7"/><text x="1368.45" y="744" font-size="24.5" font-weight="normal" fill="#fff" text-anchor="middle" textLength="109.1" lengthAdjust="spacingAndGlyphs">Output 4</text>
<rect x="1523.8" y="703" width="222.0" height="64" rx="32.0" fill="#b56ad7"/><text x="1635.25" y="744" font-size="24.5" font-weight="normal" fill="#fff" text-anchor="middle" textLength="106.7" lengthAdjust="spacingAndGlyphs">Output 5</text>
<circle cx="499.2" cy="879.3" r="37.6" fill="#880b9f"/>
<g transform="translate(499.2,883.2) scale(0.74) translate(-36.6,-37.5)" fill="#fff">
<circle cx="28.4" cy="22.4" r="10.3"/>
<path d="M9.4 52.6 L9.4 44 C9.4 38.5 13.5 35.4 19 35.4 L25.2 35.4 L28.4 39 L31.6 35.4 L38.5 35.4 L38.5 52.6 Z"/>
<path d="M41.9 30.5 L48.4 30.5 L48.4 37 L56 37 L56 30.5 L63.8 30.5 L63.8 52.3 L41.9 52.3 Z"/>
<rect x="50.6" y="30.5" width="3.2" height="3.6"/>
</g>
<text x="498.45" y="952.5" font-size="24.5" font-weight="normal" fill="#474747" text-anchor="middle" textLength="131.9" lengthAdjust="spacingAndGlyphs">Customer 1</text>
<circle cx="728.2" cy="879.3" r="37.6" fill="#880b9f"/>
<g transform="translate(728.2,883.2) scale(0.74) translate(-36.6,-37.5)" fill="#fff">
<circle cx="28.4" cy="22.4" r="10.3"/>
<path d="M9.4 52.6 L9.4 44 C9.4 38.5 13.5 35.4 19 35.4 L25.2 35.4 L28.4 39 L31.6 35.4 L38.5 35.4 L38.5 52.6 Z"/>
<path d="M41.9 30.5 L48.4 30.5 L48.4 37 L56 37 L56 30.5 L63.8 30.5 L63.8 52.3 L41.9 52.3 Z"/>
<rect x="50.6" y="30.5" width="3.2" height="3.6"/>
</g>
<text x="726.25" y="952.5" font-size="24.5" font-weight="normal" fill="#474747" text-anchor="middle" textLength="137.1" lengthAdjust="spacingAndGlyphs">Customer 2</text>
<circle cx="956.5" cy="879.3" r="37.6" fill="#880b9f"/>
<g transform="translate(956.5,883.2) scale(0.74) translate(-36.6,-37.5)" fill="#fff">
<circle cx="28.4" cy="22.4" r="10.3"/>
<path d="M9.4 52.6 L9.4 44 C9.4 38.5 13.5 35.4 19 35.4 L25.2 35.4 L28.4 39 L31.6 35.4 L38.5 35.4 L38.5 52.6 Z"/>
<path d="M41.9 30.5 L48.4 30.5 L48.4 37 L56 37 L56 30.5 L63.8 30.5 L63.8 52.3 L41.9 52.3 Z"/>
<rect x="50.6" y="30.5" width="3.2" height="3.6"/>
</g>
<text x="957.1" y="952.5" font-size="24.5" font-weight="normal" fill="#474747" text-anchor="middle" textLength="136.6" lengthAdjust="spacingAndGlyphs">Customer 3</text>
<circle cx="1263.2" cy="879.3" r="37.6" fill="#880b9f"/>
<g transform="translate(1263.2,883.2) scale(0.74) translate(-36.6,-37.5)" fill="#fff">
<circle cx="28.4" cy="22.4" r="10.3"/>
<path d="M9.4 52.6 L9.4 44 C9.4 38.5 13.5 35.4 19 35.4 L25.2 35.4 L28.4 39 L31.6 35.4 L38.5 35.4 L38.5 52.6 Z"/>
<path d="M41.9 30.5 L48.4 30.5 L48.4 37 L56 37 L56 30.5 L63.8 30.5 L63.8 52.3 L41.9 52.3 Z"/>
<rect x="50.6" y="30.5" width="3.2" height="3.6"/>
</g>
<text x="1264.1" y="952.5" font-size="24.5" font-weight="normal" fill="#474747" text-anchor="middle" textLength="139.2" lengthAdjust="spacingAndGlyphs">Customer 4</text>
<circle cx="1475.5" cy="879.3" r="37.6" fill="#880b9f"/>
<g transform="translate(1475.5,883.2) scale(0.74) translate(-36.6,-37.5)" fill="#fff">
<circle cx="28.4" cy="22.4" r="10.3"/>
<path d="M9.4 52.6 L9.4 44 C9.4 38.5 13.5 35.4 19 35.4 L25.2 35.4 L28.4 39 L31.6 35.4 L38.5 35.4 L38.5 52.6 Z"/>
<path d="M41.9 30.5 L48.4 30.5 L48.4 37 L56 37 L56 30.5 L63.8 30.5 L63.8 52.3 L41.9 52.3 Z"/>
<rect x="50.6" y="30.5" width="3.2" height="3.6"/>
</g>
<text x="1475.0" y="952.5" font-size="24.5" font-weight="normal" fill="#474747" text-anchor="middle" textLength="136.8" lengthAdjust="spacingAndGlyphs">Customer 5</text>
<circle cx="1693" cy="879.3" r="37.6" fill="#880b9f"/>
<g transform="translate(1693,883.2) scale(0.74) translate(-36.6,-37.5)" fill="#fff">
<circle cx="28.4" cy="22.4" r="10.3"/>
<path d="M9.4 52.6 L9.4 44 C9.4 38.5 13.5 35.4 19 35.4 L25.2 35.4 L28.4 39 L31.6 35.4 L38.5 35.4 L38.5 52.6 Z"/>
<path d="M41.9 30.5 L48.4 30.5 L48.4 37 L56 37 L56 30.5 L63.8 30.5 L63.8 52.3 L41.9 52.3 Z"/>
<rect x="50.6" y="30.5" width="3.2" height="3.6"/>
</g>
<text x="1694.5" y="952.5" font-size="24.5" font-weight="normal" fill="#474747" text-anchor="middle" textLength="138.0" lengthAdjust="spacingAndGlyphs">Customer 6</text>
<path d="M495.90 372.50 L503.10 372.50 L499.50 379.50 Z" fill="#454545"/>
<path d="M639.70 372.50 L646.90 372.50 L643.30 379.50 Z" fill="#454545"/>
<path d="M871.40 372.50 L878.60 372.50 L875.00 379.50 Z" fill="#454545"/>
<path d="M1103.90 372.50 L1111.10 372.50 L1107.50 379.50 Z" fill="#454545"/>
<path d="M1242.90 372.50 L1250.10 372.50 L1246.50 379.50 Z" fill="#454545"/>
<path d="M1381.40 372.50 L1388.60 372.50 L1385.00 379.50 Z" fill="#454545"/>
<path d="M1547.90 372.50 L1555.10 372.50 L1551.50 379.50 Z" fill="#454545"/>
<path d="M1691.90 372.50 L1699.10 372.50 L1695.50 379.50 Z" fill="#454545"/>
<path d="M495.60 834.50 L502.80 834.50 L499.20 841.50 Z" fill="#454545"/>
<path d="M724.60 834.50 L731.80 834.50 L728.20 841.50 Z" fill="#454545"/>
<path d="M952.90 834.50 L960.10 834.50 L956.50 841.50 Z" fill="#454545"/>
<path d="M1259.60 834.50 L1266.80 834.50 L1263.20 841.50 Z" fill="#454545"/>
<path d="M1471.90 834.50 L1479.10 834.50 L1475.50 841.50 Z" fill="#454545"/>
<path d="M1689.40 834.50 L1696.60 834.50 L1693.00 841.50 Z" fill="#454545"/>
</svg></div><div class="thumb" style="top:826px"><svg width="440" height="247" viewBox="0 0 1863 1049" preserveAspectRatio="none" style="display:block" font-family='"Liberation Sans", sans-serif'>
<defs>
<filter id="rst2" x="-5%" y="-30%" width="110%" height="160%"><feGaussianBlur in="SourceAlpha" stdDeviation="8"/><feOffset dx="7" dy="6"/><feComponentTransfer><feFuncA type="linear" slope="0.085"/></feComponentTransfer><feMerge><feMergeNode/><feMergeNode in="SourceGraphic"/></feMerge></filter>
<marker id="art2" viewBox="0 0 10 10" refX="5" refY="9" markerWidth="7" markerHeight="7" markerUnits="userSpaceOnUse" orient="auto-start-reverse"><path d="M0 0 L10 0 L5 10 Z" fill="#3a3a3a"/></marker>
</defs>
<rect x="0" y="0" width="1863" height="1049" fill="#fff"/>
<text transform="translate(634.12,134.3) scale(0.9563,1)" x="0" y="0" font-size="71.4" font-weight="bold" fill="#222">S</text><text transform="translate(680.43,134.3) scale(1.0601,1)" x="0" y="0" font-size="71.4" font-weight="bold" fill="#222">I</text><text transform="translate(702.33,134.3) scale(1.0393,1)" x="0" y="0" font-size="71.4" font-weight="bold" fill="#222">P</text><text transform="translate(753.91,134.3) scale(1.0539,1)" x="0" y="0" font-size="71.4" font-weight="bold" fill="#222">O</text><text transform="translate(812.42,134.3) scale(0.9851,1)" x="0" y="0" font-size="71.4" font-weight="bold" fill="#222">C</text><text transform="translate(883.81,134.3) scale(1.0035,1)" x="0" y="0" font-size="71.4" font-weight="bold" fill="#222">T</text><text transform="translate(925.75,134.3) scale(1.1309,1)" x="0" y="0" font-size="71.4" font-weight="bold" fill="#222">e</text><text transform="translate(971.08,134.3) scale(1.1705,1)" x="0" y="0" font-size="71.4" font-weight="bold" fill="#222">m</text><text transform="translate(1044.66,134.3) scale(1.1338,1)" x="0" y="0" font-size="71.4" font-weight="bold" fill="#222">p</text><text transform="translate(1092.43,134.3) scale(1.1143,1)" x="0" y="0" font-size="71.4" font-weight="bold" fill="#222">l</text><text transform="translate(1116.06,134.3) scale(0.9381,1)" x="0" y="0" font-size="71.4" font-weight="bold" fill="#222">a</text><text transform="translate(1156.99,134.3) scale(1.1785,1)" x="0" y="0" font-size="71.4" font-weight="bold" fill="#222">t</text><text transform="translate(1186.53,134.3) scale(1.1744,1)" x="0" y="0" font-size="71.4" font-weight="bold" fill="#222">e</text>
<rect x="356" y="176" width="1446.5" height="148.0" fill="#fff" filter="url(#rst2)"/>
<rect x="356" y="338.5" width="1446.5" height="148.0" fill="#fff" filter="url(#rst2)"/>
<rect x="356" y="499" width="1446.5" height="148.0" fill="#fff" filter="url(#rst2)"/>
<rect x="356" y="660.5" width="1446.5" height="148.0" fill="#fff" filter="url(#rst2)"/>
<rect x="356" y="822" width="1446.5" height="148.0" fill="#fff" filter="url(#rst2)"/>
<path d="M360 176 L98 176 A38 38 0 0 0 60 214 L60 284.5 A38 38 0 0 0 98 322.5 L360 322.5 Z" fill="#a5c71c"/>
<text x="211.25" y="236.5" font-size="29.5" font-weight="bold" fill="#fff" text-anchor="middle" textLength="136.5" lengthAdjust="spacingAndGlyphs">Suppliers</text>
<path d="M360 338.5 L98 338.5 A38 38 0 0 0 60 376.5 L60 447.0 A38 38 0 0 0 98 485.0 L360 485.0 Z" fill="#00a8d3"/>
<text x="210.75" y="399.0" font-size="29.5" font-weight="bold" fill="#fff" text-anchor="middle" textLength="94.7" lengthAdjust="spacingAndGlyphs">Inputs</text>
<path d="M360 499 L98 499 A38 38 0 0 0 60 537 L60 607.5 A38 38 0 0 0 98 645.5 L360 645.5 Z" fill="#8a3ea5"/>
<text x="211.65" y="559.5" font-size="29.5" font-weight="bold" fill="#fff" text-anchor="middle" textLength="113.5" lengthAdjust="spacingAndGlyphs">Process</text>
<path d="M360 660.5 L98 660.5 A38 38 0 0 0 60 698.5 L60 769.0 A38 38 0 0 0 98 807.0 L360 807.0 Z" fill="#ee3446"/>
<text x="211.95" y="721.0" font-size="29.5" font-weight="bold" fill="#fff" text-anchor="middle" textLength="120.9" lengthAdjust="spacingAndGlyphs">Outputs</text>
<path d="M360 822 L98 822 A38 38 0 0 0 60 860 L60 930.5 A38 38 0 0 0 98 968.5 L360 968.5 Z" fill="#8e6d55"/>
<text x="210.95" y="882.5" font-size="29.5" font-weight="bold" fill="#fff" text-anchor="middle" textLength="156.5" lengthAdjust="spacingAndGlyphs">Customers</text>
<g transform="translate(211.5,285.5) scale(1.0) translate(-37.5,-37.5)" fill="#fff" stroke="none">
<circle cx="38.3" cy="25.5" r="5.3"/>
<path d="M28.4 41.9 C28.6 36 33 33.2 38.7 33.2 C44.4 33.2 48.8 36 49 41.9 Z"/>
<path d="M36.04 14.05 A21 21 0 0 0 18.6 44.2" fill="none" stroke="#fff" stroke-width="3.8" stroke-dasharray="8.5 3.4"/>
<path d="M39.7 14.1 A21 21 0 0 1 58.49 36.5" fill="none" stroke="#fff" stroke-width="3.8"/>
<path d="M54.3 36.8 L62.6 36.8 L58.4 43.2 Z"/>
<path d="M21 49.5 C25 46 29 46.5 34 48 L38.5 49.2 C40 50 39 52.5 37.2 52.3 L31.5 51.6 L32 53 L40 53.2 L53 47.8 C55.3 47 56.5 49.2 54.6 50.5 L41 59.5 C39.5 60.5 37.5 60.7 35.5 60.2 L24.5 57 Z"/>
<path d="M14 50.8 L18.2 48.6 L24.6 61.6 L20.4 63.8 Z"/>
</g>
<g transform="translate(210.5,440.5) scale(1.0) translate(-36.5,-37.5)" fill="#fff">
<path d="M36.5 13 L48 25.8 L41.1 25.8 L41.1 44.8 L31.8 44.8 L31.8 25.8 L24 25.8 Z"/>
<path d="M15.1 38.5 L23.7 38.5 L23.7 46.1 L49 46.1 L49 38.5 L57.6 38.5 L57.6 56 L15.1 56 Z"/>
</g>
<g transform="translate(211,605) scale(1.0) translate(-37,-37)" fill="#fff">
<circle cx="37" cy="37" r="12.1"/>
<rect x="34.4" y="22.2" width="5.2" height="6" rx="0.8" transform="rotate(0 37 37)"/><rect x="34.4" y="22.2" width="5.2" height="6" rx="0.8" transform="rotate(45 37 37)"/><rect x="34.4" y="22.2" width="5.2" height="6" rx="0.8" transform="rotate(90 37 37)"/><rect x="34.4" y="22.2" width="5.2" height="6" rx="0.8" transform="rotate(135 37 37)"/><rect x="34.4" y="22.2" width="5.2" height="6" rx="0.8" transform="rotate(180 37 37)"/><rect x="34.4" y="22.2" width="5.2" height="6" rx="0.8" transform="rotate(225 37 37)"/><rect x="34.4" y="22.2" width="5.2" height="6" rx="0.8" transform="rotate(270 37 37)"/><rect x="34.4" y="22.2" width="5.2" height="6" rx="0.8" transform="rotate(315 37 37)"/>
<circle cx="37" cy="37" r="4.9" fill="#8a3ea5"/>
<g fill="none" stroke="#fff" stroke-width="3.4">
<path d="M47.5 16.5 A22.5 22.5 0 0 0 24 19"/>
<path d="M16.3 25.5 A22.5 22.5 0 0 0 19.5 50.5"/>
<path d="M26.5 57 A22.5 22.5 0 0 0 50.5 54"/>
<path d="M57.5 46 A22.5 22.5 0 0 0 54.5 22"/>
</g>
<path d="M19.5 14.8 L26.7 21.7 L19.8 21.8 Z"/>
<path d="M15.2 52.9 L22.2 45.8 L22.0 52.8 Z"/>
<path d="M54.8 58.2 L47.5 51.3 L54.5 51.2 Z"/>
<path d="M58.3 20.3 L51.5 27.3 L51.7 20.3 Z"/>
</g>
<g transform="translate(210.5,765.5) scale(1.0) translate(-36.5,-37.5)" fill="#fff">
<path d="M15.1 16.7 L57.6 16.7 L57.6 34.6 L48.7 34.6 L48.7 25.8 L24 25.8 L24 34.6 L15.1 34.6 Z"/>
<path d="M32 25.8 L41.1 25.8 L41.1 46.4 L47.9 46.4 L36.5 59.1 L24.5 46.4 L32 46.4 Z"/>
</g>
<g transform="translate(210.6,925.5) scale(1.0) translate(-36.6,-37.5)" fill="#fff">
<circle cx="28.4" cy="22.4" r="10.3"/>
<path d="M9.4 52.6 L9.4 44 C9.4 38.5 13.5 35.4 19 35.4 L25.2 35.4 L28.4 39 L31.6 35.4 L38.5 35.4 L38.5 52.6 Z"/>
<path d="M41.9 30.5 L48.4 30.5 L48.4 37 L56 37 L56 30.5 L63.8 30.5 L63.8 52.3 L41.9 52.3 Z"/>
<rect x="50.6" y="30.5" width="3.2" height="3.6"/>
</g>
<path d="M571.7 282 L571.7 330.5" fill="none" stroke="#454545" stroke-width="1.6"/><path d="M499.5 330.5 L643.3 330.5" fill="none" stroke="#454545" stroke-width="1.6"/><path d="M499.5 330.5 L499.5 374.5" fill="none" stroke="#454545" stroke-width="1.6"/><path d="M643.3 330.5 L643.3 374.5" fill="none" stroke="#454545" stroke-width="1.6"/>
<path d="M875 282 L875.0 374.5" fill="none" stroke="#454545" stroke-width="1.6"/>
<path d="M1246.5 282 L1246.5 330.5" fill="none" stroke="#454545" stroke-width="1.6"/><path d="M1107.5 330.5 L1385 330.5" fill="none" stroke="#454545" stroke-width="1.6"/><path d="M1107.5 330.5 L1107.5 374.5" fill="none" stroke="#454545" stroke-width="1.6"/><path d="M1246.5 330.5 L1246.5 374.5" fill="none" stroke="#454545" stroke-width="1.6"/><path d="M1385 330.5 L1385.0 374.5" fill="none" stroke="#454545" stroke-width="1.6"/>
<path d="M1623.5 282 L1623.5 330.5" fill="none" stroke="#454545" stroke-width="1.6"/><path d="M1551.5 330.5 L1695.5 330.5" fill="none" stroke="#454545" stroke-width="1.6"/><path d="M1551.5 330.5 L1551.5 374.5" fill="none" stroke="#454545" stroke-width="1.6"/><path d="M1695.5 330.5 L1695.5 374.5" fill="none" stroke="#454545" stroke-width="1.6"/>
<path d="M571 767 L571 816" fill="none" stroke="#454545" stroke-width="1.6"/>
<path d="M837 767 L837 816" fill="none" stroke="#454545" stroke-width="1.6"/>
<path d="M1103.5 767 L1103.5 816" fill="none" stroke="#454545" stroke-width="1.6"/>
<path d="M499.2 816 L1103.5 816" fill="none" stroke="#454545" stroke-width="1.6"/>
<path d="M499.2 816 L499.2 836.5" fill="none" stroke="#454545" stroke-width="1.6"/>
<path d="M728.2 816 L728.2 836.5" fill="none" stroke="#454545" stroke-width="1.6"/>
<path d="M956.5 816 L956.5 836.5" fill="none" stroke="#454545" stroke-width="1.6"/>
<path d="M1369.7 767 L1369.7 816" fill="none" stroke="#454545" stroke-width="1.6"/><path d="M1263.2 816 L1475.5 816" fill="none" stroke="#454545" stroke-width="1.6"/><path d="M1263.2 816 L1263.2 836.5" fill="none" stroke="#454545" stroke-width="1.6"/><path d="M1475.5 816 L1475.5 836.5" fill="none" stroke="#454545" stroke-width="1.6"/>
<path d="M1635 767 L1635 816 L1693 816" fill="none" stroke="#454545" stroke-width="1.6"/>
<path d="M1693 816 L1693.0 836.5" fill="none" stroke="#454545" stroke-width="1.6"/>
<path d="M464 573 L1704 573" fill="none" stroke="#454545" stroke-width="1.6"/>
<rect x="461.3" y="218" width="220.30000000000007" height="64" rx="32.0" fill="#a5c71c"/><text x="575.55" y="257.2" font-size="24.5" font-weight="normal" fill="#fff" text-anchor="middle" textLength="126.1" lengthAdjust="spacingAndGlyphs">Suppliers 1</text>
<rect x="765" y="218" width="220" height="64" rx="32.0" fill="#a5c71c"/><text x="874.35" y="257.2" font-size="24.5" font-weight="normal" fill="#fff" text-anchor="middle" textLength="129.9" lengthAdjust="spacingAndGlyphs">Suppliers 2</text>
<rect x="1136" y="218" width="221" height="64" rx="32.0" fill="#a5c71c"/><text x="1246.05" y="257.2" font-size="24.5" font-weight="normal" fill="#fff" text-anchor="middle" textLength="130.9" lengthAdjust="spacingAndGlyphs">Suppliers 3</text>
<rect x="1513.5" y="218" width="220.5" height="64" rx="32.0" fill="#a5c71c"/><text x="1622.75" y="257.2" font-size="24.5" font-weight="normal" fill="#fff" text-anchor="middle" textLength="132.1" lengthAdjust="spacingAndGlyphs">Suppliers 4</text>
<rect x="432" y="380" width="135" height="64" rx="32.0" fill="#00a8d3"/><text x="499.05" y="421.3" font-size="24.5" font-weight="normal" fill="#fff" text-anchor="middle" textLength="79.5" lengthAdjust="spacingAndGlyphs">Input 1</text>
<rect x="575" y="380" width="135.70000000000005" height="64" rx="32.0" fill="#00a8d3"/><text x="643.55" y="421.3" font-size="24.5" font-weight="normal" fill="#fff" text-anchor="middle" textLength="84.3" lengthAdjust="spacingAndGlyphs">Input 2</text>
<rect x="808" y="380" width="135" height="64" rx="32.0" fill="#00a8d3"/><text x="876.15" y="421.3" font-size="24.5" font-weight="normal" fill="#fff" text-anchor="middle" textLength="84.3" lengthAdjust="spacingAndGlyphs">Input 3</text>
<rect x="1040" y="380" width="135" height="64" rx="32.0" fill="#00a8d3"/><text x="1107.55" y="421.3" font-size="24.5" font-weight="normal" fill="#fff" text-anchor="middle" textLength="84.9" lengthAdjust="spacingAndGlyphs">Input 4</text>
<rect x="1179" y="380" width="133.5" height="64" rx="32.0" fill="#00a8d3"/><text x="1247.45" y="421.3" font-size="24.5" font-weight="normal" fill="#fff" text-anchor="middle" textLength="84.1" lengthAdjust="spacingAndGlyphs">Input 5</text>
<rect x="1318" y="380" width="133.5999999999999" height="64" rx="32.0" fill="#00a8d3"/><text x="1385.25" y="421.3" font-size="24.5" font-weight="normal" fill="#fff" text-anchor="middle" textLength="85.7" lengthAdjust="spacingAndGlyphs">Input 6</text>
<rect x="1484" y="380" width="135" height="64" rx="32.0" fill="#00a8d3"/><text x="1551.15" y="421.3" font-size="24.5" font-weight="normal" fill="#fff" text-anchor="middle" textLength="83.7" lengthAdjust="spacingAndGlyphs">Input 7</text>
<rect x="1628" y="380" width="135" height="64" rx="32.0" fill="#00a8d3"/><text x="1696.9" y="421.3" font-size="24.5" font-weight="normal" fill="#fff" text-anchor="middle" textLength="84.8" lengthAdjust="spacingAndGlyphs">Input 8</text>
<path d="M561 541 L423 541 A32 32 0 0 0 423 605 L561 605 Z" fill="#8a3ea5"/>
<text x="477.2" y="582.4" font-size="24.5" font-weight="normal" fill="#fff" text-anchor="middle" textLength="56.6" lengthAdjust="spacingAndGlyphs">Start</text>
<rect x="604" y="541" width="148.79999999999995" height="64" fill="#8a3ea5"/>
<text x="678.5" y="582.4" font-size="24.5" font-weight="normal" fill="#fff" text-anchor="middle" textLength="69.8" lengthAdjust="spacingAndGlyphs">Step 1</text>
<rect x="807.5" y="541" width="148.20000000000005" height="64" fill="#8a3ea5"/>
<text x="882.05" y="582.4" font-size="24.5" font-weight="normal" fill="#fff" text-anchor="middle" textLength="75.1" lengthAdjust="spacingAndGlyphs">Step 2</text>
<rect x="1011" y="541" width="148.70000000000005" height="64" fill="#8a3ea5"/>
<text x="1084.15" y="582.4" font-size="24.5" font-weight="normal" fill="#fff" text-anchor="middle" textLength="74.5" lengthAdjust="spacingAndGlyphs">Step 3</text>
<rect x="1212.6" y="541" width="148.4000000000001" height="64" fill="#8a3ea5"/>
<text x="1286.9" y="582.4" font-size="24.5" font-weight="normal" fill="#fff" text-anchor="middle" textLength="76.6" lengthAdjust="spacingAndGlyphs">Step 4</text>
<rect x="1415.8" y="541" width="148.5" height="64" fill="#8a3ea5"/>
<text x="1488.88" y="582.4" font-size="24.5" font-weight="normal" fill="#fff" text-anchor="middle" textLength="74.25" lengthAdjust="spacingAndGlyphs">Step 5</text>
<path d="M1607 541 L1745.6 541 A32 32 0 0 1 1745.6 605 L1607 605 Z" fill="#8a3ea5"/>
<text x="1692.65" y="582.4" font-size="24.5" font-weight="normal" fill="#fff" text-anchor="middle" textLength="47.5" lengthAdjust="spacingAndGlyphs">End</text>
<rect x="461" y="703" width="220" height="64" rx="32.0" fill="#ee3446"/><text x="571.1" y="744" font-size="24.5" font-weight="normal" fill="#fff" text-anchor="middle" textLength="101.6" lengthAdjust="spacingAndGlyphs">Output 1</text>
<rect x="726.6" y="703" width="220.39999999999998" height="64" rx="32.0" fill="#ee3446"/><text x="836.65" y="744" font-size="24.5" font-weight="normal" fill="#fff" text-anchor="middle" textLength="106.9" lengthAdjust="spacingAndGlyphs">Output 2</text>
<rect x="993" y="703" width="220.70000000000005" height="64" rx="32.0" fill="#ee3446"/><text x="1102.25" y="744" font-size="24.5" font-weight="normal" fill="#fff" text-anchor="middle" textLength="106.9" lengthAdjust="spacingAndGlyphs">Output 3</text>
<rect x="1259.5" y="703" width="220.0999999999999" height="64" rx="32.0" fill="#ee3446"/><text x="1368.45" y="744" font-size="24.5" font-weight="normal" fill="#fff" text-anchor="middle" textLength="109.1" lengthAdjust="spacingAndGlyphs">Output 4</text>
<rect x="1523.8" y="703" width="222.0" height="64" rx="32.0" fill="#ee3446"/><text x="1635.25" y="744" font-size="24.5" font-weight="normal" fill="#fff" text-anchor="middle" textLength="106.7" lengthAdjust="spacingAndGlyphs">Output 5</text>
<circle cx="499.2" cy="879.3" r="37.6" fill="#8e6d55"/>
<g transform="translate(499.2,883.2) scale(0.74) translate(-36.6,-37.5)" fill="#fff">
<circle cx="28.4" cy="22.4" r="10.3"/>
<path d="M9.4 52.6 L9.4 44 C9.4 38.5 13.5 35.4 19 35.4 L25.2 35.4 L28.4 39 L31.6 35.4 L38.5 35.4 L38.5 52.6 Z"/>
<path d="M41.9 30.5 L48.4 30.5 L48.4 37 L56 37 L56 30.5 L63.8 30.5 L63.8 52.3 L41.9 52.3 Z"/>
<rect x="50.6" y="30.5" width="3.2" height="3.6"/>
</g>
<text x="498.45" y="952.5" font-size="24.5" font-weight="normal" fill="#474747" text-anchor="middle" textLength="131.9" lengthAdjust="spacingAndGlyphs">Customer 1</text>
<circle cx="728.2" cy="879.3" r="37.6" fill="#8e6d55"/>
<g transform="translate(728.2,883.2) scale(0.74) translate(-36.6,-37.5)" fill="#fff">
<circle cx="28.4" cy="22.4" r="10.3"/>
<path d="M9.4 52.6 L9.4 44 C9.4 38.5 13.5 35.4 19 35.4 L25.2 35.4 L28.4 39 L31.6 35.4 L38.5 35.4 L38.5 52.6 Z"/>
<path d="M41.9 30.5 L48.4 30.5 L48.4 37 L56 37 L56 30.5 L63.8 30.5 L63.8 52.3 L41.9 52.3 Z"/>
<rect x="50.6" y="30.5" width="3.2" height="3.6"/>
</g>
<text x="726.25" y="952.5" font-size="24.5" font-weight="normal" fill="#474747" text-anchor="middle" textLength="137.1" lengthAdjust="spacingAndGlyphs">Customer 2</text>
<circle cx="956.5" cy="879.3" r="37.6" fill="#8e6d55"/>
<g transform="translate(956.5,883.2) scale(0.74) translate(-36.6,-37.5)" fill="#fff">
<circle cx="28.4" cy="22.4" r="10.3"/>
<path d="M9.4 52.6 L9.4 44 C9.4 38.5 13.5 35.4 19 35.4 L25.2 35.4 L28.4 39 L31.6 35.4 L38.5 35.4 L38.5 52.6 Z"/>
<path d="M41.9 30.5 L48.4 30.5 L48.4 37 L56 37 L56 30.5 L63.8 30.5 L63.8 52.3 L41.9 52.3 Z"/>
<rect x="50.6" y="30.5" width="3.2" height="3.6"/>
</g>
<text x="957.1" y="952.5" font-size="24.5" font-weight="normal" fill="#474747" text-anchor="middle" textLength="136.6" lengthAdjust="spacingAndGlyphs">Customer 3</text>
<circle cx="1263.2" cy="879.3" r="37.6" fill="#8e6d55"/>
<g transform="translate(1263.2,883.2) scale(0.74) translate(-36.6,-37.5)" fill="#fff">
<circle cx="28.4" cy="22.4" r="10.3"/>
<path d="M9.4 52.6 L9.4 44 C9.4 38.5 13.5 35.4 19 35.4 L25.2 35.4 L28.4 39 L31.6 35.4 L38.5 35.4 L38.5 52.6 Z"/>
<path d="M41.9 30.5 L48.4 30.5 L48.4 37 L56 37 L56 30.5 L63.8 30.5 L63.8 52.3 L41.9 52.3 Z"/>
<rect x="50.6" y="30.5" width="3.2" height="3.6"/>
</g>
<text x="1264.1" y="952.5" font-size="24.5" font-weight="normal" fill="#474747" text-anchor="middle" textLength="139.2" lengthAdjust="spacingAndGlyphs">Customer 4</text>
<circle cx="1475.5" cy="879.3" r="37.6" fill="#8e6d55"/>
<g transform="translate(1475.5,883.2) scale(0.74) translate(-36.6,-37.5)" fill="#fff">
<circle cx="28.4" cy="22.4" r="10.3"/>
<path d="M9.4 52.6 L9.4 44 C9.4 38.5 13.5 35.4 19 35.4 L25.2 35.4 L28.4 39 L31.6 35.4 L38.5 35.4 L38.5 52.6 Z"/>
<path d="M41.9 30.5 L48.4 30.5 L48.4 37 L56 37 L56 30.5 L63.8 30.5 L63.8 52.3 L41.9 52.3 Z"/>
<rect x="50.6" y="30.5" width="3.2" height="3.6"/>
</g>
<text x="1475.0" y="952.5" font-size="24.5" font-weight="normal" fill="#474747" text-anchor="middle" textLength="136.8" lengthAdjust="spacingAndGlyphs">Customer 5</text>
<circle cx="1693" cy="879.3" r="37.6" fill="#8e6d55"/>
<g transform="translate(1693,883.2) scale(0.74) translate(-36.6,-37.5)" fill="#fff">
<circle cx="28.4" cy="22.4" r="10.3"/>
<path d="M9.4 52.6 L9.4 44 C9.4 38.5 13.5 35.4 19 35.4 L25.2 35.4 L28.4 39 L31.6 35.4 L38.5 35.4 L38.5 52.6 Z"/>
<path d="M41.9 30.5 L48.4 30.5 L48.4 37 L56 37 L56 30.5 L63.8 30.5 L63.8 52.3 L41.9 52.3 Z"/>
<rect x="50.6" y="30.5" width="3.2" height="3.6"/>
</g>
<text x="1694.5" y="952.5" font-size="24.5" font-weight="normal" fill="#474747" text-anchor="middle" textLength="138.0" lengthAdjust="spacingAndGlyphs">Customer 6</text>
<path d="M495.90 372.50 L503.10 372.50 L499.50 379.50 Z" fill="#454545"/>
<path d="M639.70 372.50 L646.90 372.50 L643.30 379.50 Z" fill="#454545"/>
<path d="M871.40 372.50 L878.60 372.50 L875.00 379.50 Z" fill="#454545"/>
<path d="M1103.90 372.50 L1111.10 372.50 L1107.50 379.50 Z" fill="#454545"/>
<path d="M1242.90 372.50 L1250.10 372.50 L1246.50 379.50 Z" fill="#454545"/>
<path d="M1381.40 372.50 L1388.60 372.50 L1385.00 379.50 Z" fill="#454545"/>
<path d="M1547.90 372.50 L1555.10 372.50 L1551.50 379.50 Z" fill="#454545"/>
<path d="M1691.90 372.50 L1699.10 372.50 L1695.50 379.50 Z" fill="#454545"/>
<path d="M495.60 834.50 L502.80 834.50 L499.20 841.50 Z" fill="#454545"/>
<path d="M724.60 834.50 L731.80 834.50 L728.20 841.50 Z" fill="#454545"/>
<path d="M952.90 834.50 L960.10 834.50 L956.50 841.50 Z" fill="#454545"/>
<path d="M1259.60 834.50 L1266.80 834.50 L1263.20 841.50 Z" fill="#454545"/>
<path d="M1471.90 834.50 L1479.10 834.50 L1475.50 841.50 Z" fill="#454545"/>
<path d="M1689.40 834.50 L1696.60 834.50 L1693.00 841.50 Z" fill="#454545"/>
</svg></div><div class="thumb" style="top:1092px"><svg width="440" height="247" viewBox="0 0 1863 1049" preserveAspectRatio="none" style="display:block" font-family='"Liberation Sans", sans-serif'>
<defs>
<filter id="rst3" x="-5%" y="-30%" width="110%" height="160%"><feGaussianBlur in="SourceAlpha" stdDeviation="8"/><feOffset dx="7" dy="6"/><feComponentTransfer><feFuncA type="linear" slope="0.085"/></feComponentTransfer><feMerge><feMergeNode/><feMergeNode in="SourceGraphic"/></feMerge></filter>
<marker id="art3" viewBox="0 0 10 10" refX="5" refY="9" markerWidth="7" markerHeight="7" markerUnits="userSpaceOnUse" orient="auto-start-reverse"><path d="M0 0 L10 0 L5 10 Z" fill="#3a3a3a"/></marker>
</defs>
<rect x="0" y="0" width="1863" height="1049" fill="#fff"/>
<text transform="translate(634.12,134.3) scale(0.9563,1)" x="0" y="0" font-size="71.4" font-weight="bold" fill="#222">S</text><text transform="translate(680.43,134.3) scale(1.0601,1)" x="0" y="0" font-size="71.4" font-weight="bold" fill="#222">I</text><text transform="translate(702.33,134.3) scale(1.0393,1)" x="0" y="0" font-size="71.4" font-weight="bold" fill="#222">P</text><text transform="translate(753.91,134.3) scale(1.0539,1)" x="0" y="0" font-size="71.4" font-weight="bold" fill="#222">O</text><text transform="translate(812.42,134.3) scale(0.9851,1)" x="0" y="0" font-size="71.4" font-weight="bold" fill="#222">C</text><text transform="translate(883.81,134.3) scale(1.0035,1)" x="0" y="0" font-size="71.4" font-weight="bold" fill="#222">T</text><text transform="translate(925.75,134.3) scale(1.1309,1)" x="0" y="0" font-size="71.4" font-weight="bold" fill="#222">e</text><text transform="translate(971.08,134.3) scale(1.1705,1)" x="0" y="0" font-size="71.4" font-weight="bold" fill="#222">m</text><text transform="translate(1044.66,134.3) scale(1.1338,1)" x="0" y="0" font-size="71.4" font-weight="bold" fill="#222">p</text><text transform="translate(1092.43,134.3) scale(1.1143,1)" x="0" y="0" font-size="71.4" font-weight="bold" fill="#222">l</text><text transform="translate(1116.06,134.3) scale(0.9381,1)" x="0" y="0" font-size="71.4" font-weight="bold" fill="#222">a</text><text transform="translate(1156.99,134.3) scale(1.1785,1)" x="0" y="0" font-size="71.4" font-weight="bold" fill="#222">t</text><text transform="translate(1186.53,134.3) scale(1.1744,1)" x="0" y="0" font-size="71.4" font-weight="bold" fill="#222">e</text>
<rect x="356" y="176" width="1446.5" height="148.0" fill="#fff" filter="url(#rst3)"/>
<rect x="356" y="338.5" width="1446.5" height="148.0" fill="#fff" filter="url(#rst3)"/>
<rect x="356" y="499" width="1446.5" height="148.0" fill="#fff" filter="url(#rst3)"/>
<rect x="356" y="660.5" width="1446.5" height="148.0" fill="#fff" filter="url(#rst3)"/>
<rect x="356" y="822" width="1446.5" height="148.0" fill="#fff" filter="url(#rst3)"/>
<path d="M360 176 L98 176 A38 38 0 0 0 60 214 L60 284.5 A38 38 0 0 0 98 322.5 L360 322.5 Z" fill="#0a63ef"/>
<text x="211.25" y="236.5" font-size="29.5" font-weight="bold" fill="#fff" text-anchor="middle" textLength="136.5" lengthAdjust="spacingAndGlyphs">Suppliers</text>
<path d="M360 338.5 L98 338.5 A38 38 0 0 0 60 376.5 L60 447.0 A38 38 0 0 0 98 485.0 L360 485.0 Z" fill="#a428f4"/>
<text x="210.75" y="399.0" font-size="29.5" font-weight="bold" fill="#fff" text-anchor="middle" textLength="94.7" lengthAdjust="spacingAndGlyphs">Inputs</text>
<path d="M360 499 L98 499 A38 38 0 0 0 60 537 L60 607.5 A38 38 0 0 0 98 645.5 L360 645.5 Z" fill="#f00032"/>
<text x="211.65" y="559.5" font-size="29.5" font-weight="bold" fill="#fff" text-anchor="middle" textLength="113.5" lengthAdjust="spacingAndGlyphs">Process</text>
<path d="M360 660.5 L98 660.5 A38 38 0 0 0 60 698.5 L60 769.0 A38 38 0 0 0 98 807.0 L360 807.0 Z" fill="#f8a300"/>
<text x="211.95" y="721.0" font-size="29.5" font-weight="bold" fill="#fff" text-anchor="middle" textLength="120.9" lengthAdjust="spacingAndGlyphs">Outputs</text>
<path d="M360 822 L98 822 A38 38 0 0 0 60 860 L60 930.5 A38 38 0 0 0 98 968.5 L360 968.5 Z" fill="#fe6a3d"/>
<text x="210.95" y="882.5" font-size="29.5" font-weight="bold" fill="#fff" text-anchor="middle" textLength="156.5" lengthAdjust="spacingAndGlyphs">Customers</text>
<g transform="translate(211.5,285.5) scale(1.0) translate(-37.5,-37.5)" fill="#fff" stroke="none">
<circle cx="38.3" cy="25.5" r="5.3"/>
<path d="M28.4 41.9 C28.6 36 33 33.2 38.7 33.2 C44.4 33.2 48.8 36 49 41.9 Z"/>
<path d="M36.04 14.05 A21 21 0 0 0 18.6 44.2" fill="none" stroke="#fff" stroke-width="3.8" stroke-dasharray="8.5 3.4"/>
<path d="M39.7 14.1 A21 21 0 0 1 58.49 36.5" fill="none" stroke="#fff" stroke-width="3.8"/>
<path d="M54.3 36.8 L62.6 36.8 L58.4 43.2 Z"/>
<path d="M21 49.5 C25 46 29 46.5 34 48 L38.5 49.2 C40 50 39 52.5 37.2 52.3 L31.5 51.6 L32 53 L40 53.2 L53 47.8 C55.3 47 56.5 49.2 54.6 50.5 L41 59.5 C39.5 60.5 37.5 60.7 35.5 60.2 L24.5 57 Z"/>
<path d="M14 50.8 L18.2 48.6 L24.6 61.6 L20.4 63.8 Z"/>
</g>
<g transform="translate(210.5,440.5) scale(1.0) translate(-36.5,-37.5)" fill="#fff">
<path d="M36.5 13 L48 25.8 L41.1 25.8 L41.1 44.8 L31.8 44.8 L31.8 25.8 L24 25.8 Z"/>
<path d="M15.1 38.5 L23.7 38.5 L23.7 46.1 L49 46.1 L49 38.5 L57.6 38.5 L57.6 56 L15.1 56 Z"/>
</g>
<g transform="translate(211,605) scale(1.0) translate(-37,-37)" fill="#fff">
<circle cx="37" cy="37" r="12.1"/>
<rect x="34.4" y="22.2" width="5.2" height="6" rx="0.8" transform="rotate(0 37 37)"/><rect x="34.4" y="22.2" width="5.2" height="6" rx="0.8" transform="rotate(45 37 37)"/><rect x="34.4" y="22.2" width="5.2" height="6" rx="0.8" transform="rotate(90 37 37)"/><rect x="34.4" y="22.2" width="5.2" height="6" rx="0.8" transform="rotate(135 37 37)"/><rect x="34.4" y="22.2" width="5.2" height="6" rx="0.8" transform="rotate(180 37 37)"/><rect x="34.4" y="22.2" width="5.2" height="6" rx="0.8" transform="rotate(225 37 37)"/><rect x="34.4" y="22.2" width="5.2" height="6" rx="0.8" transform="rotate(270 37 37)"/><rect x="34.4" y="22.2" width="5.2" height="6" rx="0.8" transform="rotate(315 37 37)"/>
<circle cx="37" cy="37" r="4.9" fill="#f00032"/>
<g fill="none" stroke="#fff" stroke-width="3.4">
<path d="M47.5 16.5 A22.5 22.5 0 0 0 24 19"/>
<path d="M16.3 25.5 A22.5 22.5 0 0 0 19.5 50.5"/>
<path d="M26.5 57 A22.5 22.5 0 0 0 50.5 54"/>
<path d="M57.5 46 A22.5 22.5 0 0 0 54.5 22"/>
</g>
<path d="M19.5 14.8 L26.7 21.7 L19.8 21.8 Z"/>
<path d="M15.2 52.9 L22.2 45.8 L22.0 52.8 Z"/>
<path d="M54.8 58.2 L47.5 51.3 L54.5 51.2 Z"/>
<path d="M58.3 20.3 L51.5 27.3 L51.7 20.3 Z"/>
</g>
<g transform="translate(210.5,765.5) scale(1.0) translate(-36.5,-37.5)" fill="#fff">
<path d="M15.1 16.7 L57.6 16.7 L57.6 34.6 L48.7 34.6 L48.7 25.8 L24 25.8 L24 34.6 L15.1 34.6 Z"/>
<path d="M32 25.8 L41.1 25.8 L41.1 46.4 L47.9 46.4 L36.5 59.1 L24.5 46.4 L32 46.4 Z"/>
</g>
<g transform="translate(210.6,925.5) scale(1.0) translate(-36.6,-37.5)" fill="#fff">
<circle cx="28.4" cy="22.4" r="10.3"/>
<path d="M9.4 52.6 L9.4 44 C9.4 38.5 13.5 35.4 19 35.4 L25.2 35.4 L28.4 39 L31.6 35.4 L38.5 35.4 L38.5 52.6 Z"/>
<path d="M41.9 30.5 L48.4 30.5 L48.4 37 L56 37 L56 30.5 L63.8 30.5 L63.8 52.3 L41.9 52.3 Z"/>
<rect x="50.6" y="30.5" width="3.2" height="3.6"/>
</g>
<path d="M571.7 282 L571.7 330.5" fill="none" stroke="#454545" stroke-width="1.6"/><path d="M499.5 330.5 L643.3 330.5" fill="none" stroke="#454545" stroke-width="1.6"/><path d="M499.5 330.5 L499.5 374.5" fill="none" stroke="#454545" stroke-width="1.6"/><path d="M643.3 330.5 L643.3 374.5" fill="none" stroke="#454545" stroke-width="1.6"/>
<path d="M875 282 L875.0 374.5" fill="none" stroke="#454545" stroke-width="1.6"/>
<path d="M1246.5 282 L1246.5 330.5" fill="none" stroke="#454545" stroke-width="1.6"/><path d="M1107.5 330.5 L1385 330.5" fill="none" stroke="#454545" stroke-width="1.6"/><path d="M1107.5 330.5 L1107.5 374.5" fill="none" stroke="#454545" stroke-width="1.6"/><path d="M1246.5 330.5 L1246.5 374.5" fill="none" stroke="#454545" stroke-width="1.6"/><path d="M1385 330.5 L1385.0 374.5" fill="none" stroke="#454545" stroke-width="1.6"/>
<path d="M1623.5 282 L1623.5 330.5" fill="none" stroke="#454545" stroke-width="1.6"/><path d="M1551.5 330.5 L1695.5 330.5" fill="none" stroke="#454545" stroke-width="1.6"/><path d="M1551.5 330.5 L1551.5 374.5" fill="none" stroke="#454545" stroke-width="1.6"/><path d="M1695.5 330.5 L1695.5 374.5" fill="none" stroke="#454545" stroke-width="1.6"/>
<path d="M571 767 L571 816" fill="none" stroke="#454545" stroke-width="1.6"/>
<path d="M837 767 L837 816" fill="none" stroke="#454545" stroke-width="1.6"/>
<path d="M1103.5 767 L1103.5 816" fill="none" stroke="#454545" stroke-width="1.6"/>
<path d="M499.2 816 L1103.5 816" fill="none" stroke="#454545" stroke-width="1.6"/>
<path d="M499.2 816 L499.2 836.5" fill="none" stroke="#454545" stroke-width="1.6"/>
<path d="M728.2 816 L728.2 836.5" fill="none" stroke="#454545" stroke-width="1.6"/>
<path d="M956.5 816 L956.5 836.5" fill="none" stroke="#454545" stroke-width="1.6"/>
<path d="M1369.7 767 L1369.7 816" fill="none" stroke="#454545" stroke-width="1.6"/><path d="M1263.2 816 L1475.5 816" fill="none" stroke="#454545" stroke-width="1.6"/><path d="M1263.2 816 L1263.2 836.5" fill="none" stroke="#454545" stroke-width="1.6"/><path d="M1475.5 816 L1475.5 836.5" fill="none" stroke="#454545" stroke-width="1.6"/>
<path d="M1635 767 L1635 816 L1693 816" fill="none" stroke="#454545" stroke-width="1.6"/>
<path d="M1693 816 L1693.0 836.5" fill="none" stroke="#454545" stroke-width="1.6"/>
<path d="M464 573 L1704 573" fill="none" stroke="#454545" stroke-width="1.6"/>
<rect x="461.3" y="218" width="220.30000000000007" height="64" rx="32.0" fill="#0a63ef"/><text x="575.55" y="257.2" font-size="24.5" font-weight="normal" fill="#fff" text-anchor="middle" textLength="126.1" lengthAdjust="spacingAndGlyphs">Suppliers 1</text>
<rect x="765" y="218" width="220" height="64" rx="32.0" fill="#0a63ef"/><text x="874.35" y="257.2" font-size="24.5" font-weight="normal" fill="#fff" text-anchor="middle" textLength="129.9" lengthAdjust="spacingAndGlyphs">Suppliers 2</text>
<rect x="1136" y="218" width="221" height="64" rx="32.0" fill="#0a63ef"/><text x="1246.05" y="257.2" font-size="24.5" font-weight="normal" fill="#fff" text-anchor="middle" textLength="130.9" lengthAdjust="spacingAndGlyphs">Suppliers 3</text>
<rect x="1513.5" y="218" width="220.5" height="64" rx="32.0" fill="#0a63ef"/><text x="1622.75" y="257.2" font-size="24.5" font-weight="normal" fill="#fff" text-anchor="middle" textLength="132.1" lengthAdjust="spacingAndGlyphs">Suppliers 4</text>
<rect x="432" y="380" width="135" height="64" rx="32.0" fill="#a428f4"/><text x="499.05" y="421.3" font-size="24.5" font-weight="normal" fill="#fff" text-anchor="middle" textLength="79.5" lengthAdjust="spacingAndGlyphs">Input 1</text>
<rect x="575" y="380" width="135.70000000000005" height="64" rx="32.0" fill="#a428f4"/><text x="643.55" y="421.3" font-size="24.5" font-weight="normal" fill="#fff" text-anchor="middle" textLength="84.3" lengthAdjust="spacingAndGlyphs">Input 2</text>
<rect x="808" y="380" width="135" height="64" rx="32.0" fill="#a428f4"/><text x="876.15" y="421.3" font-size="24.5" font-weight="normal" fill="#fff" text-anchor="middle" textLength="84.3" lengthAdjust="spacingAndGlyphs">Input 3</text>
<rect x="1040" y="380" width="135" height="64" rx="32.0" fill="#a428f4"/><text x="1107.55" y="421.3" font-size="24.5" font-weight="normal" fill="#fff" text-anchor="middle" textLength="84.9" lengthAdjust="spacingAndGlyphs">Input 4</text>
<rect x="1179" y="380" width="133.5" height="64" rx="32.0" fill="#a428f4"/><text x="1247.45" y="421.3" font-size="24.5" font-weight="normal" fill="#fff" text-anchor="middle" textLength="84.1" lengthAdjust="spacingAndGlyphs">Input 5</text>
<rect x="1318" y="380" width="133.5999999999999" height="64" rx="32.0" fill="#a428f4"/><text x="1385.25" y="421.3" font-size="24.5" font-weight="normal" fill="#fff" text-anchor="middle" textLength="85.7" lengthAdjust="spacingAndGlyphs">Input 6</text>
<rect x="1484" y="380" width="135" height="64" rx="32.0" fill="#a428f4"/><text x="1551.15" y="421.3" font-size="24.5" font-weight="normal" fill="#fff" text-anchor="middle" textLength="83.7" lengthAdjust="spacingAndGlyphs">Input 7</text>
<rect x="1628" y="380" width="135" height="64" rx="32.0" fill="#a428f4"/><text x="1696.9" y="421.3" font-size="24.5" font-weight="normal" fill="#fff" text-anchor="middle" textLength="84.8" lengthAdjust="spacingAndGlyphs">Input 8</text>
<path d="M561 541 L423 541 A32 32 0 0 0 423 605 L561 605 Z" fill="#f00032"/>
<text x="477.2" y="582.4" font-size="24.5" font-weight="normal" fill="#fff" text-anchor="middle" textLength="56.6" lengthAdjust="spacingAndGlyphs">Start</text>
<rect x="604" y="541" width="148.79999999999995" height="64" fill="#f00032"/>
<text x="678.5" y="582.4" font-size="24.5" font-weight="normal" fill="#fff" text-anchor="middle" textLength="69.8" lengthAdjust="spacingAndGlyphs">Step 1</text>
<rect x="807.5" y="541" width="148.20000000000005" height="64" fill="#f00032"/>
<text x="882.05" y="582.4" font-size="24.5" font-weight="normal" fill="#fff" text-anchor="middle" textLength="75.1" lengthAdjust="spacingAndGlyphs">Step 2</text>
<rect x="1011" y="541" width="148.70000000000005" height="64" fill="#f00032"/>
<text x="1084.15" y="582.4" font-size="24.5" font-weight="normal" fill="#fff" text-anchor="middle" textLength="74.5" lengthAdjust="spacingAndGlyphs">Step 3</text>
<rect x="1212.6" y="541" width="148.4000000000001" height="64" fill="#f00032"/>
<text x="1286.9" y="582.4" font-size="24.5" font-weight="normal" fill="#fff" text-anchor="middle" textLength="76.6" lengthAdjust="spacingAndGlyphs">Step 4</text>
<rect x="1415.8" y="541" width="148.5" height="64" fill="#f00032"/>
<text x="1488.88" y="582.4" font-size="24.5" font-weight="normal" fill="#fff" text-anchor="middle" textLength="74.25" lengthAdjust="spacingAndGlyphs">Step 5</text>
<path d="M1607 541 L1745.6 541 A32 32 0 0 1 1745.6 605 L1607 605 Z" fill="#f00032"/>
<text x="1692.65" y="582.4" font-size="24.5" font-weight="normal" fill="#fff" text-anchor="middle" textLength="47.5" lengthAdjust="spacingAndGlyphs">End</text>
<rect x="461" y="703" width="220" height="64" rx="32.0" fill="#f8a300"/><text x="571.1" y="744" font-size="24.5" font-weight="normal" fill="#fff" text-anchor="middle" textLength="101.6" lengthAdjust="spacingAndGlyphs">Output 1</text>
<rect x="726.6" y="703" width="220.39999999999998" height="64" rx="32.0" fill="#f8a300"/><text x="836.65" y="744" font-size="24.5" font-weight="normal" fill="#fff" text-anchor="middle" textLength="106.9" lengthAdjust="spacingAndGlyphs">Output 2</text>
<rect x="993" y="703" width="220.70000000000005" height="64" rx="32.0" fill="#f8a300"/><text x="1102.25" y="744" font-size="24.5" font-weight="normal" fill="#fff" text-anchor="middle" textLength="106.9" lengthAdjust="spacingAndGlyphs">Output 3</text>
<rect x="1259.5" y="703" width="220.0999999999999" height="64" rx="32.0" fill="#f8a300"/><text x="1368.45" y="744" font-size="24.5" font-weight="normal" fill="#fff" text-anchor="middle" textLength="109.1" lengthAdjust="spacingAndGlyphs">Output 4</text>
<rect x="1523.8" y="703" width="222.0" height="64" rx="32.0" fill="#f8a300"/><text x="1635.25" y="744" font-size="24.5" font-weight="normal" fill="#fff" text-anchor="middle" textLength="106.7" lengthAdjust="spacingAndGlyphs">Output 5</text>
<circle cx="499.2" cy="879.3" r="37.6" fill="#fe6a3d"/>
<g transform="translate(499.2,883.2) scale(0.74) translate(-36.6,-37.5)" fill="#fff">
<circle cx="28.4" cy="22.4" r="10.3"/>
<path d="M9.4 52.6 L9.4 44 C9.4 38.5 13.5 35.4 19 35.4 L25.2 35.4 L28.4 39 L31.6 35.4 L38.5 35.4 L38.5 52.6 Z"/>
<path d="M41.9 30.5 L48.4 30.5 L48.4 37 L56 37 L56 30.5 L63.8 30.5 L63.8 52.3 L41.9 52.3 Z"/>
<rect x="50.6" y="30.5" width="3.2" height="3.6"/>
</g>
<text x="498.45" y="952.5" font-size="24.5" font-weight="normal" fill="#474747" text-anchor="middle" textLength="131.9" lengthAdjust="spacingAndGlyphs">Customer 1</text>
<circle cx="728.2" cy="879.3" r="37.6" fill="#fe6a3d"/>
<g transform="translate(728.2,883.2) scale(0.74) translate(-36.6,-37.5)" fill="#fff">
<circle cx="28.4" cy="22.4" r="10.3"/>
<path d="M9.4 52.6 L9.4 44 C9.4 38.5 13.5 35.4 19 35.4 L25.2 35.4 L28.4 39 L31.6 35.4 L38.5 35.4 L38.5 52.6 Z"/>
<path d="M41.9 30.5 L48.4 30.5 L48.4 37 L56 37 L56 30.5 L63.8 30.5 L63.8 52.3 L41.9 52.3 Z"/>
<rect x="50.6" y="30.5" width="3.2" height="3.6"/>
</g>
<text x="726.25" y="952.5" font-size="24.5" font-weight="normal" fill="#474747" text-anchor="middle" textLength="137.1" lengthAdjust="spacingAndGlyphs">Customer 2</text>
<circle cx="956.5" cy="879.3" r="37.6" fill="#fe6a3d"/>
<g transform="translate(956.5,883.2) scale(0.74) translate(-36.6,-37.5)" fill="#fff">
<circle cx="28.4" cy="22.4" r="10.3"/>
<path d="M9.4 52.6 L9.4 44 C9.4 38.5 13.5 35.4 19 35.4 L25.2 35.4 L28.4 39 L31.6 35.4 L38.5 35.4 L38.5 52.6 Z"/>
<path d="M41.9 30.5 L48.4 30.5 L48.4 37 L56 37 L56 30.5 L63.8 30.5 L63.8 52.3 L41.9 52.3 Z"/>
<rect x="50.6" y="30.5" width="3.2" height="3.6"/>
</g>
<text x="957.1" y="952.5" font-size="24.5" font-weight="normal" fill="#474747" text-anchor="middle" textLength="136.6" lengthAdjust="spacingAndGlyphs">Customer 3</text>
<circle cx="1263.2" cy="879.3" r="37.6" fill="#fe6a3d"/>
<g transform="translate(1263.2,883.2) scale(0.74) translate(-36.6,-37.5)" fill="#fff">
<circle cx="28.4" cy="22.4" r="10.3"/>
<path d="M9.4 52.6 L9.4 44 C9.4 38.5 13.5 35.4 19 35.4 L25.2 35.4 L28.4 39 L31.6 35.4 L38.5 35.4 L38.5 52.6 Z"/>
<path d="M41.9 30.5 L48.4 30.5 L48.4 37 L56 37 L56 30.5 L63.8 30.5 L63.8 52.3 L41.9 52.3 Z"/>
<rect x="50.6" y="30.5" width="3.2" height="3.6"/>
</g>
<text x="1264.1" y="952.5" font-size="24.5" font-weight="normal" fill="#474747" text-anchor="middle" textLength="139.2" lengthAdjust="spacingAndGlyphs">Customer 4</text>
<circle cx="1475.5" cy="879.3" r="37.6" fill="#fe6a3d"/>
<g transform="translate(1475.5,883.2) scale(0.74) translate(-36.6,-37.5)" fill="#fff">
<circle cx="28.4" cy="22.4" r="10.3"/>
<path d="M9.4 52.6 L9.4 44 C9.4 38.5 13.5 35.4 19 35.4 L25.2 35.4 L28.4 39 L31.6 35.4 L38.5 35.4 L38.5 52.6 Z"/>
<path d="M41.9 30.5 L48.4 30.5 L48.4 37 L56 37 L56 30.5 L63.8 30.5 L63.8 52.3 L41.9 52.3 Z"/>
<rect x="50.6" y="30.5" width="3.2" height="3.6"/>
</g>
<text x="1475.0" y="952.5" font-size="24.5" font-weight="normal" fill="#474747" text-anchor="middle" textLength="136.8" lengthAdjust="spacingAndGlyphs">Customer 5</text>
<circle cx="1693" cy="879.3" r="37.6" fill="#fe6a3d"/>
<g transform="translate(1693,883.2) scale(0.74) translate(-36.6,-37.5)" fill="#fff">
<circle cx="28.4" cy="22.4" r="10.3"/>
<path d="M9.4 52.6 L9.4 44 C9.4 38.5 13.5 35.4 19 35.4 L25.2 35.4 L28.4 39 L31.6 35.4 L38.5 35.4 L38.5 52.6 Z"/>
<path d="M41.9 30.5 L48.4 30.5 L48.4 37 L56 37 L56 30.5 L63.8 30.5 L63.8 52.3 L41.9 52.3 Z"/>
<rect x="50.6" y="30.5" width="3.2" height="3.6"/>
</g>
<text x="1694.5" y="952.5" font-size="24.5" font-weight="normal" fill="#474747" text-anchor="middle" textLength="138.0" lengthAdjust="spacingAndGlyphs">Customer 6</text>
<path d="M495.90 372.50 L503.10 372.50 L499.50 379.50 Z" fill="#454545"/>
<path d="M639.70 372.50 L646.90 372.50 L643.30 379.50 Z" fill="#454545"/>
<path d="M871.40 372.50 L878.60 372.50 L875.00 379.50 Z" fill="#454545"/>
<path d="M1103.90 372.50 L1111.10 372.50 L1107.50 379.50 Z" fill="#454545"/>
<path d="M1242.90 372.50 L1250.10 372.50 L1246.50 379.50 Z" fill="#454545"/>
<path d="M1381.40 372.50 L1388.60 372.50 L1385.00 379.50 Z" fill="#454545"/>
<path d="M1547.90 372.50 L1555.10 372.50 L1551.50 379.50 Z" fill="#454545"/>
<path d="M1691.90 372.50 L1699.10 372.50 L1695.50 379.50 Z" fill="#454545"/>
<path d="M495.60 834.50 L502.80 834.50 L499.20 841.50 Z" fill="#454545"/>
<path d="M724.60 834.50 L731.80 834.50 L728.20 841.50 Z" fill="#454545"/>
<path d="M952.90 834.50 L960.10 834.50 L956.50 841.50 Z" fill="#454545"/>
<path d="M1259.60 834.50 L1266.80 834.50 L1263.20 841.50 Z" fill="#454545"/>
<path d="M1471.90 834.50 L1479.10 834.50 L1475.50 841.50 Z" fill="#454545"/>
<path d="M1689.40 834.50 L1696.60 834.50 L1693.00 841.50 Z" fill="#454545"/>
</svg></div>
<svg class="abs" style="left:60px;top:1340px" width="400" height="80" font-family='"Liberation Sans", sans-serif'>
<text x="35" y="57.5" font-size="37" fill="#a5a5a5" textLength="247" lengthAdjust="spacingAndGlyphs">slidepick.com</text>
</svg>
<svg class="abs" style="left:2480px;top:500px" width="60" height="660" font-family='"Liberation Sans", sans-serif'>
<text transform="translate(36.5,638) rotate(-90)" x="0" y="0" font-size="29" font-style="italic" fill="#8a8a8a" textLength="627" lengthAdjust="spacingAndGlyphs">Easily customizable theme colors and fonts*</text>
</svg>
</body></html>
